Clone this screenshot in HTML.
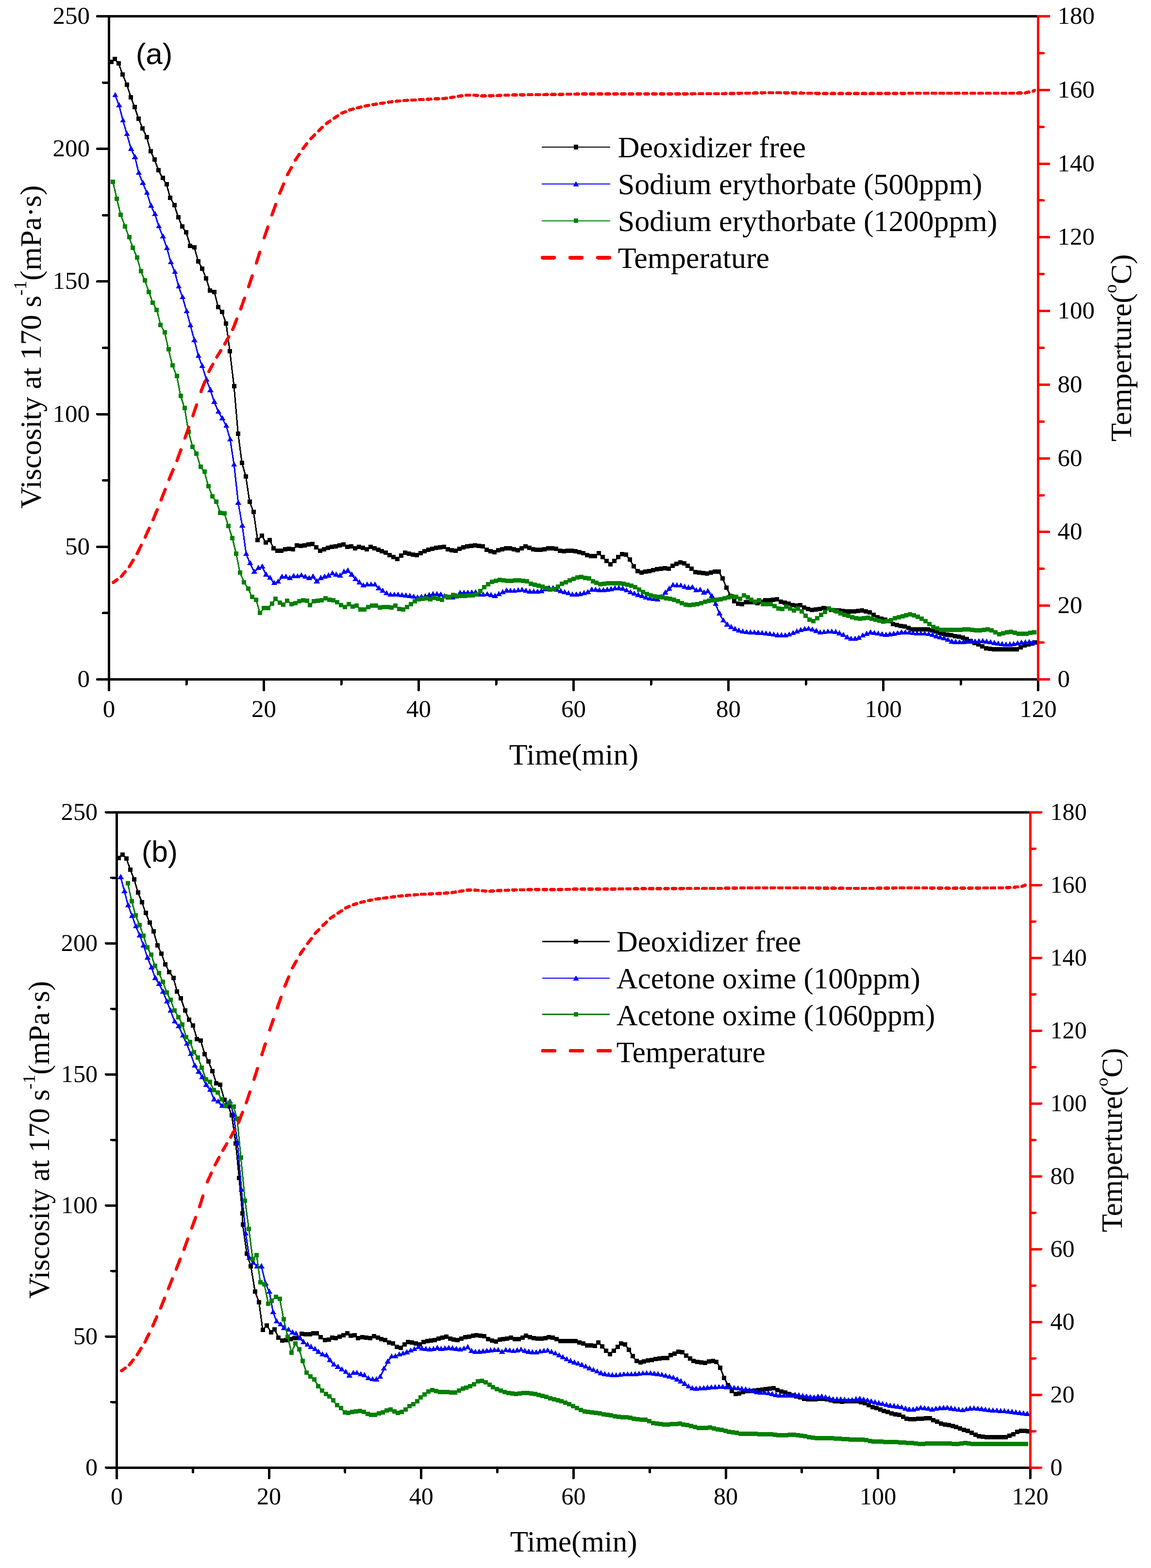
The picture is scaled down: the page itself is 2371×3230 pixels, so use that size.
<!DOCTYPE html>
<html><head><meta charset="utf-8"><title>Viscosity vs time</title>
<style>html,body{margin:0;padding:0;background:#fff;} svg{display:block;}</style>
</head><body>
<svg width="2371" height="3230" viewBox="0 0 2371 3230" shape-rendering="crispEdges"><path d="M229.2 127.2 L236.5 121.6 L244.2 130.8 L252.7 153.8 L261.2 174.0 L269.6 200.3 L277.4 220.9 L285.4 244.6 L293.8 264.5 L302.3 282.9 L310.1 311.2 L318.1 328.2 L326.5 350.5 L335.0 366.9 L343.0 379.8 L350.7 407.4 L359.2 422.6 L367.2 447.5 L375.4 466.9 L383.4 478.3 L391.9 506.2 L400.4 509.8 L408.4 538.4 L416.6 553.4 L424.6 573.3 L432.6 598.7 L441.5 601.2 L449.5 632.6 L457.3 642.3 L465.8 666.5 L473.5 723.4 L482.0 795.3 L490.5 893.7 L498.4 953.5 L506.4 981.3 L514.2 1033.4 L522.3 1054.9 L530.8 1112.6 L539.5 1103.4 L547.5 1117.4 L555.5 1112.6 L563.4 1129.0 L571.4 1134.0 L579.4 1134.0 L587.4 1131.5 L595.4 1130.0 L603.4 1131.9 L611.4 1123.8 L619.4 1124.7 L627.4 1123.2 L635.4 1121.7 L643.4 1120.6 L651.4 1127.5 L659.3 1134.0 L667.3 1131.3 L675.3 1128.0 L683.3 1126.6 L691.2 1125.2 L699.2 1123.1 L707.2 1121.8 L715.2 1126.3 L723.1 1125.0 L731.1 1129.6 L739.1 1126.6 L747.1 1128.7 L755.0 1131.3 L763.0 1126.8 L771.0 1129.0 L779.0 1132.1 L786.9 1135.4 L794.9 1138.8 L802.9 1143.4 L810.9 1147.9 L818.8 1151.3 L826.8 1144.4 L834.8 1138.2 L842.8 1140.2 L850.7 1142.5 L858.7 1143.8 L866.7 1139.3 L874.7 1135.9 L882.6 1132.5 L890.6 1130.5 L898.6 1128.6 L906.6 1127.4 L914.5 1126.7 L922.5 1131.3 L930.5 1133.0 L938.5 1134.1 L946.4 1130.3 L954.4 1127.2 L962.4 1125.7 L970.4 1124.3 L978.3 1123.1 L986.3 1124.3 L994.3 1125.4 L1002.3 1132.8 L1010.2 1135.3 L1018.2 1137.2 L1026.2 1133.6 L1034.2 1131.6 L1042.1 1129.9 L1050.1 1129.5 L1058.1 1131.8 L1066.1 1133.3 L1074.0 1129.3 L1082.0 1125.3 L1090.0 1128.0 L1098.0 1131.2 L1105.9 1132.0 L1113.9 1132.0 L1121.9 1131.5 L1129.8 1129.5 L1137.8 1129.3 L1145.8 1130.4 L1153.8 1134.4 L1161.7 1135.7 L1169.7 1134.5 L1177.7 1134.8 L1185.7 1135.2 L1193.6 1137.2 L1201.6 1139.6 L1209.6 1143.6 L1217.6 1145.0 L1225.5 1145.0 L1233.5 1139.7 L1241.5 1147.7 L1249.5 1155.8 L1257.4 1162.5 L1265.4 1155.9 L1273.4 1147.9 L1281.4 1141.3 L1289.3 1142.9 L1297.3 1152.3 L1305.3 1166.7 L1313.3 1176.8 L1321.2 1179.5 L1329.2 1177.9 L1337.2 1176.4 L1345.2 1174.4 L1353.1 1172.4 L1361.1 1171.3 L1369.1 1170.1 L1377.1 1171.9 L1385.0 1165.0 L1393.0 1161.3 L1401.0 1158.2 L1409.0 1160.1 L1416.9 1165.9 L1424.9 1171.9 L1432.9 1178.8 L1440.9 1179.6 L1448.8 1180.4 L1456.8 1181.2 L1464.8 1179.2 L1472.8 1177.0 L1480.7 1177.9 L1488.7 1191.9 L1496.7 1210.6 L1504.7 1227.3 L1512.6 1238.9 L1520.6 1243.7 L1528.6 1244.5 L1536.6 1240.5 L1544.5 1240.0 L1552.5 1240.6 L1560.5 1242.3 L1568.5 1239.4 L1576.4 1236.9 L1584.4 1236.6 L1592.4 1235.9 L1600.4 1234.7 L1608.3 1239.1 L1616.3 1241.6 L1624.3 1243.6 L1632.3 1246.0 L1640.2 1247.2 L1648.2 1246.7 L1656.2 1251.0 L1664.2 1254.3 L1672.1 1256.9 L1680.1 1255.8 L1688.1 1254.4 L1696.1 1252.8 L1704.0 1253.5 L1712.0 1256.4 L1720.0 1257.7 L1728.0 1257.9 L1735.9 1258.6 L1743.9 1259.4 L1751.9 1259.8 L1759.9 1259.0 L1767.8 1258.2 L1775.8 1257.6 L1783.8 1259.0 L1791.8 1261.2 L1799.7 1266.8 L1807.7 1271.2 L1815.7 1274.2 L1823.7 1276.6 L1831.6 1279.7 L1839.6 1285.2 L1847.6 1287.3 L1855.6 1289.2 L1863.5 1290.6 L1871.5 1293.0 L1879.5 1296.1 L1887.5 1296.1 L1895.4 1296.1 L1903.4 1296.4 L1911.4 1296.9 L1919.4 1298.3 L1927.3 1300.4 L1935.3 1303.0 L1943.3 1305.2 L1951.3 1307.2 L1959.2 1308.6 L1967.2 1310.1 L1975.2 1311.6 L1983.2 1313.6 L1991.1 1316.9 L1999.1 1320.7 L2007.1 1324.4 L2015.1 1327.3 L2023.0 1331.4 L2031.0 1335.0 L2039.0 1336.7 L2047.0 1337.2 L2054.9 1337.4 L2062.9 1337.4 L2070.9 1337.4 L2078.9 1337.3 L2086.8 1337.2 L2094.8 1337.0 L2102.8 1333.6 L2110.8 1329.8 L2118.7 1327.0 L2126.7 1325.6 L2134.7 1323.0" fill="none" stroke="#000" stroke-width="3" stroke-linejoin="round"/>
<path d="M224.7 122.7h9v9h-9zM232.0 117.1h9v9h-9zM239.7 126.3h9v9h-9zM248.2 149.3h9v9h-9zM256.7 169.5h9v9h-9zM265.1 195.8h9v9h-9zM272.9 216.4h9v9h-9zM280.9 240.1h9v9h-9zM289.3 260.0h9v9h-9zM297.8 278.4h9v9h-9zM305.6 306.7h9v9h-9zM313.6 323.7h9v9h-9zM322.0 346.0h9v9h-9zM330.5 362.4h9v9h-9zM338.5 375.3h9v9h-9zM346.2 402.9h9v9h-9zM354.7 418.1h9v9h-9zM362.7 443.0h9v9h-9zM370.9 462.4h9v9h-9zM378.9 473.8h9v9h-9zM387.4 501.7h9v9h-9zM395.9 505.3h9v9h-9zM403.9 533.9h9v9h-9zM412.1 548.9h9v9h-9zM420.1 568.8h9v9h-9zM428.1 594.2h9v9h-9zM437.0 596.7h9v9h-9zM445.0 628.1h9v9h-9zM452.8 637.8h9v9h-9zM461.3 662.0h9v9h-9zM469.0 718.9h9v9h-9zM477.5 790.8h9v9h-9zM486.0 889.2h9v9h-9zM493.9 949.0h9v9h-9zM501.9 976.8h9v9h-9zM509.7 1028.9h9v9h-9zM517.8 1050.4h9v9h-9zM526.3 1108.1h9v9h-9zM535.0 1098.9h9v9h-9zM543.0 1112.9h9v9h-9zM551.0 1108.1h9v9h-9zM558.9 1124.5h9v9h-9zM566.9 1129.5h9v9h-9zM574.9 1129.5h9v9h-9zM582.9 1127.0h9v9h-9zM590.9 1125.5h9v9h-9zM598.9 1127.4h9v9h-9zM606.9 1119.3h9v9h-9zM614.9 1120.2h9v9h-9zM622.9 1118.7h9v9h-9zM630.9 1117.2h9v9h-9zM638.9 1116.1h9v9h-9zM646.9 1123.0h9v9h-9zM654.8 1129.5h9v9h-9zM662.8 1126.8h9v9h-9zM670.8 1123.5h9v9h-9zM678.8 1122.1h9v9h-9zM686.7 1120.7h9v9h-9zM694.7 1118.6h9v9h-9zM702.7 1117.3h9v9h-9zM710.7 1121.8h9v9h-9zM718.6 1120.5h9v9h-9zM726.6 1125.1h9v9h-9zM734.6 1122.1h9v9h-9zM742.6 1124.2h9v9h-9zM750.5 1126.8h9v9h-9zM758.5 1122.3h9v9h-9zM766.5 1124.5h9v9h-9zM774.5 1127.6h9v9h-9zM782.4 1130.9h9v9h-9zM790.4 1134.3h9v9h-9zM798.4 1138.9h9v9h-9zM806.4 1143.4h9v9h-9zM814.3 1146.8h9v9h-9zM822.3 1139.9h9v9h-9zM830.3 1133.7h9v9h-9zM838.3 1135.7h9v9h-9zM846.2 1138.0h9v9h-9zM854.2 1139.3h9v9h-9zM862.2 1134.8h9v9h-9zM870.2 1131.4h9v9h-9zM878.1 1128.0h9v9h-9zM886.1 1126.0h9v9h-9zM894.1 1124.1h9v9h-9zM902.1 1122.9h9v9h-9zM910.0 1122.2h9v9h-9zM918.0 1126.8h9v9h-9zM926.0 1128.5h9v9h-9zM934.0 1129.6h9v9h-9zM941.9 1125.8h9v9h-9zM949.9 1122.7h9v9h-9zM957.9 1121.2h9v9h-9zM965.9 1119.8h9v9h-9zM973.8 1118.6h9v9h-9zM981.8 1119.8h9v9h-9zM989.8 1120.9h9v9h-9zM997.8 1128.3h9v9h-9zM1005.7 1130.8h9v9h-9zM1013.7 1132.7h9v9h-9zM1021.7 1129.1h9v9h-9zM1029.7 1127.1h9v9h-9zM1037.6 1125.4h9v9h-9zM1045.6 1125.0h9v9h-9zM1053.6 1127.3h9v9h-9zM1061.6 1128.8h9v9h-9zM1069.5 1124.8h9v9h-9zM1077.5 1120.8h9v9h-9zM1085.5 1123.5h9v9h-9zM1093.5 1126.7h9v9h-9zM1101.4 1127.5h9v9h-9zM1109.4 1127.5h9v9h-9zM1117.4 1127.0h9v9h-9zM1125.3 1125.0h9v9h-9zM1133.3 1124.8h9v9h-9zM1141.3 1125.9h9v9h-9zM1149.3 1129.9h9v9h-9zM1157.2 1131.2h9v9h-9zM1165.2 1130.0h9v9h-9zM1173.2 1130.3h9v9h-9zM1181.2 1130.7h9v9h-9zM1189.1 1132.7h9v9h-9zM1197.1 1135.1h9v9h-9zM1205.1 1139.1h9v9h-9zM1213.1 1140.5h9v9h-9zM1221.0 1140.5h9v9h-9zM1229.0 1135.2h9v9h-9zM1237.0 1143.2h9v9h-9zM1245.0 1151.3h9v9h-9zM1252.9 1158.0h9v9h-9zM1260.9 1151.4h9v9h-9zM1268.9 1143.4h9v9h-9zM1276.9 1136.8h9v9h-9zM1284.8 1138.4h9v9h-9zM1292.8 1147.8h9v9h-9zM1300.8 1162.2h9v9h-9zM1308.8 1172.3h9v9h-9zM1316.7 1175.0h9v9h-9zM1324.7 1173.4h9v9h-9zM1332.7 1171.9h9v9h-9zM1340.7 1169.9h9v9h-9zM1348.6 1167.9h9v9h-9zM1356.6 1166.8h9v9h-9zM1364.6 1165.6h9v9h-9zM1372.6 1167.4h9v9h-9zM1380.5 1160.5h9v9h-9zM1388.5 1156.8h9v9h-9zM1396.5 1153.7h9v9h-9zM1404.5 1155.6h9v9h-9zM1412.4 1161.4h9v9h-9zM1420.4 1167.4h9v9h-9zM1428.4 1174.3h9v9h-9zM1436.4 1175.1h9v9h-9zM1444.3 1175.9h9v9h-9zM1452.3 1176.7h9v9h-9zM1460.3 1174.7h9v9h-9zM1468.3 1172.5h9v9h-9zM1476.2 1173.4h9v9h-9zM1484.2 1187.4h9v9h-9zM1492.2 1206.1h9v9h-9zM1500.2 1222.8h9v9h-9zM1508.1 1234.4h9v9h-9zM1516.1 1239.2h9v9h-9zM1524.1 1240.0h9v9h-9zM1532.1 1236.0h9v9h-9zM1540.0 1235.5h9v9h-9zM1548.0 1236.1h9v9h-9zM1556.0 1237.8h9v9h-9zM1564.0 1234.9h9v9h-9zM1571.9 1232.4h9v9h-9zM1579.9 1232.1h9v9h-9zM1587.9 1231.4h9v9h-9zM1595.9 1230.2h9v9h-9zM1603.8 1234.6h9v9h-9zM1611.8 1237.1h9v9h-9zM1619.8 1239.1h9v9h-9zM1627.8 1241.5h9v9h-9zM1635.7 1242.7h9v9h-9zM1643.7 1242.2h9v9h-9zM1651.7 1246.5h9v9h-9zM1659.7 1249.8h9v9h-9zM1667.6 1252.4h9v9h-9zM1675.6 1251.3h9v9h-9zM1683.6 1249.9h9v9h-9zM1691.6 1248.3h9v9h-9zM1699.5 1249.0h9v9h-9zM1707.5 1251.9h9v9h-9zM1715.5 1253.2h9v9h-9zM1723.5 1253.4h9v9h-9zM1731.4 1254.1h9v9h-9zM1739.4 1254.9h9v9h-9zM1747.4 1255.3h9v9h-9zM1755.4 1254.5h9v9h-9zM1763.3 1253.7h9v9h-9zM1771.3 1253.1h9v9h-9zM1779.3 1254.5h9v9h-9zM1787.3 1256.7h9v9h-9zM1795.2 1262.3h9v9h-9zM1803.2 1266.7h9v9h-9zM1811.2 1269.7h9v9h-9zM1819.2 1272.1h9v9h-9zM1827.1 1275.2h9v9h-9zM1835.1 1280.7h9v9h-9zM1843.1 1282.8h9v9h-9zM1851.1 1284.7h9v9h-9zM1859.0 1286.1h9v9h-9zM1867.0 1288.5h9v9h-9zM1875.0 1291.6h9v9h-9zM1883.0 1291.6h9v9h-9zM1890.9 1291.6h9v9h-9zM1898.9 1291.9h9v9h-9zM1906.9 1292.4h9v9h-9zM1914.9 1293.8h9v9h-9zM1922.8 1295.9h9v9h-9zM1930.8 1298.5h9v9h-9zM1938.8 1300.7h9v9h-9zM1946.8 1302.7h9v9h-9zM1954.7 1304.1h9v9h-9zM1962.7 1305.6h9v9h-9zM1970.7 1307.1h9v9h-9zM1978.7 1309.1h9v9h-9zM1986.6 1312.4h9v9h-9zM1994.6 1316.2h9v9h-9zM2002.6 1319.9h9v9h-9zM2010.6 1322.8h9v9h-9zM2018.5 1326.9h9v9h-9zM2026.5 1330.5h9v9h-9zM2034.5 1332.2h9v9h-9zM2042.5 1332.7h9v9h-9zM2050.4 1332.9h9v9h-9zM2058.4 1332.9h9v9h-9zM2066.4 1332.9h9v9h-9zM2074.4 1332.8h9v9h-9zM2082.3 1332.7h9v9h-9zM2090.3 1332.5h9v9h-9zM2098.3 1329.1h9v9h-9zM2106.3 1325.3h9v9h-9zM2114.2 1322.5h9v9h-9zM2122.2 1321.1h9v9h-9zM2130.2 1318.5h9v9h-9z" fill="#000"/>
<path d="M237.4 196.9 L245.4 217.5 L253.4 248.9 L261.6 276.8 L270.1 307.1 L278.1 324.0 L285.9 356.7 L294.3 377.3 L302.8 397.9 L311.3 424.5 L319.3 441.5 L327.3 466.9 L335.7 487.5 L344.0 511.7 L352.0 540.7 L360.2 560.9 L368.2 590.9 L376.2 612.7 L384.6 641.8 L392.4 670.9 L400.4 701.1 L408.9 733.8 L416.6 754.4 L425.3 782.2 L433.6 804.0 L441.5 828.2 L450.0 848.8 L458.0 862.1 L466.2 877.9 L474.2 905.7 L482.2 957.8 L490.8 1036.0 L499.1 1083.3 L507.2 1141.7 L515.2 1160.6 L523.8 1178.4 L532.2 1170.4 L540.2 1167.5 L548.2 1184.2 L556.2 1190.8 L564.9 1201.7 L572.9 1198.8 L580.9 1188.6 L588.9 1188.6 L596.9 1191.5 L604.9 1187.1 L612.8 1187.9 L620.8 1185.7 L628.8 1188.6 L636.8 1191.5 L644.8 1188.2 L652.8 1198.0 L660.7 1191.2 L668.7 1188.4 L676.7 1186.0 L684.7 1181.6 L692.6 1184.2 L700.6 1186.3 L708.6 1178.4 L716.6 1176.0 L724.5 1184.0 L732.5 1193.2 L740.5 1200.5 L748.5 1206.7 L756.4 1204.9 L764.4 1204.9 L772.4 1204.9 L780.4 1212.1 L788.3 1217.5 L796.3 1222.6 L804.3 1225.7 L812.3 1225.7 L820.2 1225.7 L828.2 1226.5 L836.2 1227.3 L844.2 1228.1 L852.1 1229.7 L860.1 1231.4 L868.1 1230.1 L876.1 1228.6 L884.0 1226.6 L892.0 1224.5 L900.0 1224.6 L908.0 1225.1 L915.9 1228.8 L923.9 1231.0 L931.9 1231.7 L939.9 1228.0 L947.8 1221.9 L955.8 1221.7 L963.8 1221.5 L971.8 1221.3 L979.7 1220.7 L987.7 1225.5 L995.7 1225.8 L1003.7 1224.6 L1011.6 1226.4 L1019.6 1228.1 L1027.6 1224.4 L1035.6 1220.4 L1043.5 1217.0 L1051.5 1217.7 L1059.5 1217.9 L1067.5 1216.8 L1075.4 1215.8 L1083.4 1217.5 L1091.4 1219.2 L1099.4 1219.4 L1107.3 1219.4 L1115.3 1218.0 L1123.3 1214.1 L1131.2 1212.3 L1139.2 1212.2 L1147.2 1215.7 L1155.2 1218.2 L1163.1 1220.2 L1171.1 1222.7 L1179.1 1225.4 L1187.1 1225.1 L1195.0 1224.4 L1203.0 1222.4 L1211.0 1220.1 L1219.0 1215.0 L1226.9 1215.3 L1234.9 1216.3 L1242.9 1216.5 L1250.9 1215.3 L1258.8 1214.1 L1266.8 1212.5 L1274.8 1212.3 L1282.8 1213.0 L1290.7 1216.8 L1298.7 1220.6 L1306.7 1223.3 L1314.7 1226.0 L1322.6 1228.6 L1330.6 1231.0 L1338.6 1233.3 L1346.6 1234.8 L1354.5 1235.4 L1362.5 1230.0 L1370.5 1221.4 L1378.5 1213.4 L1386.4 1205.7 L1394.4 1206.3 L1402.4 1206.9 L1410.4 1209.3 L1418.3 1211.1 L1426.3 1210.3 L1434.3 1216.7 L1442.3 1215.7 L1450.2 1221.3 L1458.2 1218.4 L1466.2 1228.1 L1474.2 1244.9 L1482.1 1264.1 L1490.1 1278.7 L1498.1 1287.0 L1506.1 1292.4 L1514.0 1296.3 L1522.0 1299.5 L1530.0 1301.5 L1538.0 1302.9 L1545.9 1303.4 L1553.9 1303.7 L1561.9 1304.1 L1569.9 1304.8 L1577.8 1305.5 L1585.8 1306.6 L1593.8 1307.9 L1601.8 1309.0 L1609.7 1309.2 L1617.7 1309.4 L1625.7 1307.8 L1633.7 1304.7 L1641.6 1301.4 L1649.6 1298.7 L1657.6 1296.6 L1665.6 1295.8 L1673.5 1297.8 L1681.5 1300.1 L1689.5 1303.7 L1697.5 1302.9 L1705.4 1301.9 L1713.4 1301.9 L1721.4 1302.4 L1729.4 1305.0 L1737.3 1308.4 L1745.3 1313.3 L1753.3 1316.3 L1761.3 1316.3 L1769.2 1314.6 L1777.2 1309.6 L1785.2 1306.2 L1793.2 1303.3 L1801.1 1304.6 L1809.1 1305.9 L1817.1 1307.1 L1825.1 1308.2 L1833.0 1307.2 L1841.0 1306.1 L1849.0 1304.8 L1857.0 1303.3 L1864.9 1303.3 L1872.9 1303.8 L1880.9 1304.6 L1888.9 1305.6 L1896.8 1305.8 L1904.8 1305.8 L1912.8 1306.9 L1920.8 1308.6 L1928.7 1311.2 L1936.7 1313.4 L1944.7 1315.4 L1952.7 1318.7 L1960.6 1322.2 L1968.6 1323.0 L1976.6 1323.5 L1984.6 1323.1 L1992.5 1322.6 L2000.5 1322.3 L2008.5 1322.0 L2016.5 1321.6 L2024.4 1321.2 L2032.4 1322.3 L2040.4 1323.5 L2048.4 1325.0 L2056.3 1326.5 L2064.3 1327.5 L2072.3 1328.5 L2080.3 1328.0 L2088.2 1327.4 L2096.2 1325.9 L2104.2 1324.4 L2112.2 1323.8 L2120.1 1323.3 L2128.1 1324.0" fill="none" stroke="#00f" stroke-width="3" stroke-linejoin="round"/>
<path d="M231.2 200.4L237.4 189.8L243.6 200.4zM239.2 221.0L245.4 210.4L251.6 221.0zM247.2 252.4L253.4 241.8L259.6 252.4zM255.4 280.3L261.6 269.7L267.8 280.3zM263.9 310.6L270.1 300.0L276.3 310.6zM271.9 327.5L278.1 316.9L284.3 327.5zM279.7 360.2L285.9 349.6L292.1 360.2zM288.1 380.8L294.3 370.2L300.5 380.8zM296.6 401.4L302.8 390.8L309.0 401.4zM305.1 428.0L311.3 417.4L317.5 428.0zM313.1 445.0L319.3 434.4L325.5 445.0zM321.1 470.4L327.3 459.8L333.5 470.4zM329.5 491.0L335.7 480.4L341.9 491.0zM337.8 515.2L344.0 504.6L350.2 515.2zM345.8 544.2L352.0 533.6L358.2 544.2zM354.0 564.4L360.2 553.8L366.4 564.4zM362.0 594.4L368.2 583.8L374.4 594.4zM370.0 616.2L376.2 605.6L382.4 616.2zM378.4 645.3L384.6 634.7L390.8 645.3zM386.2 674.4L392.4 663.8L398.6 674.4zM394.2 704.6L400.4 694.0L406.6 704.6zM402.7 737.3L408.9 726.7L415.1 737.3zM410.4 757.9L416.6 747.3L422.8 757.9zM419.1 785.7L425.3 775.1L431.5 785.7zM427.4 807.5L433.6 796.9L439.8 807.5zM435.3 831.7L441.5 821.1L447.7 831.7zM443.8 852.3L450.0 841.7L456.2 852.3zM451.8 865.6L458.0 855.0L464.2 865.6zM460.0 881.4L466.2 870.8L472.4 881.4zM468.0 909.2L474.2 898.6L480.4 909.2zM476.0 961.3L482.2 950.7L488.4 961.3zM484.6 1039.5L490.8 1028.9L497.0 1039.5zM492.9 1086.8L499.1 1076.2L505.3 1086.8zM501.0 1145.2L507.2 1134.6L513.4 1145.2zM509.0 1164.1L515.2 1153.5L521.4 1164.1zM517.6 1181.9L523.8 1171.3L530.0 1181.9zM526.0 1173.9L532.2 1163.3L538.4 1173.9zM534.0 1171.0L540.2 1160.4L546.4 1171.0zM542.0 1187.7L548.2 1177.1L554.4 1187.7zM550.0 1194.3L556.2 1183.7L562.4 1194.3zM558.7 1205.2L564.9 1194.6L571.1 1205.2zM566.7 1202.3L572.9 1191.7L579.1 1202.3zM574.7 1192.1L580.9 1181.5L587.1 1192.1zM582.7 1192.1L588.9 1181.5L595.1 1192.1zM590.7 1195.0L596.9 1184.4L603.1 1195.0zM598.7 1190.6L604.9 1180.0L611.1 1190.6zM606.6 1191.4L612.8 1180.8L619.0 1191.4zM614.6 1189.2L620.8 1178.6L627.0 1189.2zM622.6 1192.1L628.8 1181.5L635.0 1192.1zM630.6 1195.0L636.8 1184.4L643.0 1195.0zM638.6 1191.7L644.8 1181.1L651.0 1191.7zM646.5 1201.5L652.8 1190.9L659.0 1201.5zM654.5 1194.7L660.7 1184.1L666.9 1194.7zM662.5 1191.9L668.7 1181.3L674.9 1191.9zM670.5 1189.5L676.7 1178.9L682.9 1189.5zM678.5 1185.1L684.7 1174.5L690.9 1185.1zM686.4 1187.7L692.6 1177.1L698.8 1187.7zM694.4 1189.8L700.6 1179.2L706.8 1189.8zM702.4 1181.9L708.6 1171.3L714.8 1181.9zM710.4 1179.5L716.6 1168.9L722.8 1179.5zM718.3 1187.5L724.5 1176.9L730.7 1187.5zM726.3 1196.7L732.5 1186.1L738.7 1196.7zM734.3 1204.0L740.5 1193.4L746.7 1204.0zM742.3 1210.2L748.5 1199.6L754.7 1210.2zM750.2 1208.4L756.4 1197.8L762.6 1208.4zM758.2 1208.4L764.4 1197.8L770.6 1208.4zM766.2 1208.4L772.4 1197.8L778.6 1208.4zM774.2 1215.6L780.4 1205.0L786.6 1215.6zM782.1 1221.0L788.3 1210.4L794.5 1221.0zM790.1 1226.1L796.3 1215.5L802.5 1226.1zM798.1 1229.2L804.3 1218.6L810.5 1229.2zM806.1 1229.2L812.3 1218.6L818.5 1229.2zM814.0 1229.2L820.2 1218.6L826.4 1229.2zM822.0 1230.0L828.2 1219.4L834.4 1230.0zM830.0 1230.8L836.2 1220.2L842.4 1230.8zM838.0 1231.6L844.2 1221.0L850.4 1231.6zM845.9 1233.2L852.1 1222.6L858.3 1233.2zM853.9 1234.9L860.1 1224.3L866.3 1234.9zM861.9 1233.6L868.1 1223.0L874.3 1233.6zM869.9 1232.1L876.1 1221.5L882.3 1232.1zM877.8 1230.1L884.0 1219.5L890.2 1230.1zM885.8 1228.0L892.0 1217.4L898.2 1228.0zM893.8 1228.1L900.0 1217.5L906.2 1228.1zM901.8 1228.6L908.0 1218.0L914.2 1228.6zM909.7 1232.3L915.9 1221.7L922.1 1232.3zM917.7 1234.5L923.9 1223.9L930.1 1234.5zM925.7 1235.2L931.9 1224.5L938.1 1235.2zM933.7 1231.5L939.9 1220.9L946.1 1231.5zM941.6 1225.4L947.8 1214.8L954.0 1225.4zM949.6 1225.2L955.8 1214.6L962.0 1225.2zM957.6 1225.0L963.8 1214.4L970.0 1225.0zM965.6 1224.8L971.8 1214.2L978.0 1224.8zM973.5 1224.2L979.7 1213.6L985.9 1224.2zM981.5 1229.0L987.7 1218.4L993.9 1229.0zM989.5 1229.3L995.7 1218.7L1001.9 1229.3zM997.5 1228.1L1003.7 1217.5L1009.9 1228.1zM1005.4 1229.9L1011.6 1219.3L1017.8 1229.9zM1013.4 1231.6L1019.6 1221.0L1025.8 1231.6zM1021.4 1227.9L1027.6 1217.3L1033.8 1227.9zM1029.4 1223.9L1035.6 1213.3L1041.8 1223.9zM1037.3 1220.5L1043.5 1209.9L1049.7 1220.5zM1045.3 1221.2L1051.5 1210.6L1057.7 1221.2zM1053.3 1221.4L1059.5 1210.8L1065.7 1221.4zM1061.3 1220.3L1067.5 1209.7L1073.7 1220.3zM1069.2 1219.3L1075.4 1208.7L1081.6 1219.3zM1077.2 1221.0L1083.4 1210.4L1089.6 1221.0zM1085.2 1222.7L1091.4 1212.1L1097.6 1222.7zM1093.2 1222.9L1099.4 1212.3L1105.6 1222.9zM1101.1 1222.9L1107.3 1212.3L1113.5 1222.9zM1109.1 1221.5L1115.3 1210.9L1121.5 1221.5zM1117.1 1217.6L1123.3 1207.0L1129.5 1217.6zM1125.0 1215.8L1131.2 1205.2L1137.4 1215.8zM1133.0 1215.7L1139.2 1205.1L1145.4 1215.7zM1141.0 1219.2L1147.2 1208.6L1153.4 1219.2zM1149.0 1221.7L1155.2 1211.1L1161.4 1221.7zM1156.9 1223.7L1163.1 1213.1L1169.3 1223.7zM1164.9 1226.2L1171.1 1215.6L1177.3 1226.2zM1172.9 1228.9L1179.1 1218.3L1185.3 1228.9zM1180.9 1228.6L1187.1 1218.0L1193.3 1228.6zM1188.8 1227.9L1195.0 1217.3L1201.2 1227.9zM1196.8 1225.9L1203.0 1215.3L1209.2 1225.9zM1204.8 1223.6L1211.0 1213.0L1217.2 1223.6zM1212.8 1218.5L1219.0 1207.9L1225.2 1218.5zM1220.7 1218.8L1226.9 1208.2L1233.1 1218.8zM1228.7 1219.8L1234.9 1209.2L1241.1 1219.8zM1236.7 1220.0L1242.9 1209.4L1249.1 1220.0zM1244.7 1218.8L1250.9 1208.2L1257.1 1218.8zM1252.6 1217.6L1258.8 1207.0L1265.0 1217.6zM1260.6 1216.0L1266.8 1205.4L1273.0 1216.0zM1268.6 1215.8L1274.8 1205.2L1281.0 1215.8zM1276.6 1216.5L1282.8 1205.9L1289.0 1216.5zM1284.5 1220.3L1290.7 1209.7L1296.9 1220.3zM1292.5 1224.1L1298.7 1213.5L1304.9 1224.1zM1300.5 1226.8L1306.7 1216.2L1312.9 1226.8zM1308.5 1229.5L1314.7 1218.9L1320.9 1229.5zM1316.4 1232.1L1322.6 1221.5L1328.8 1232.1zM1324.4 1234.5L1330.6 1223.9L1336.8 1234.5zM1332.4 1236.8L1338.6 1226.2L1344.8 1236.8zM1340.4 1238.3L1346.6 1227.7L1352.8 1238.3zM1348.3 1238.9L1354.5 1228.3L1360.7 1238.9zM1356.3 1233.5L1362.5 1222.9L1368.7 1233.5zM1364.3 1224.9L1370.5 1214.3L1376.7 1224.9zM1372.3 1216.9L1378.5 1206.3L1384.7 1216.9zM1380.2 1209.2L1386.4 1198.6L1392.6 1209.2zM1388.2 1209.8L1394.4 1199.2L1400.6 1209.8zM1396.2 1210.4L1402.4 1199.8L1408.6 1210.4zM1404.2 1212.8L1410.4 1202.2L1416.6 1212.8zM1412.1 1214.6L1418.3 1204.0L1424.5 1214.6zM1420.1 1213.8L1426.3 1203.2L1432.5 1213.8zM1428.1 1220.2L1434.3 1209.6L1440.5 1220.2zM1436.1 1219.2L1442.3 1208.6L1448.5 1219.2zM1444.0 1224.8L1450.2 1214.2L1456.4 1224.8zM1452.0 1221.9L1458.2 1211.3L1464.4 1221.9zM1460.0 1231.6L1466.2 1221.0L1472.4 1231.6zM1468.0 1248.4L1474.2 1237.8L1480.4 1248.4zM1475.9 1267.6L1482.1 1257.0L1488.3 1267.6zM1483.9 1282.2L1490.1 1271.6L1496.3 1282.2zM1491.9 1290.5L1498.1 1279.9L1504.3 1290.5zM1499.9 1295.9L1506.1 1285.3L1512.3 1295.9zM1507.8 1299.8L1514.0 1289.2L1520.2 1299.8zM1515.8 1303.0L1522.0 1292.4L1528.2 1303.0zM1523.8 1305.0L1530.0 1294.4L1536.2 1305.0zM1531.8 1306.4L1538.0 1295.8L1544.2 1306.4zM1539.7 1306.9L1545.9 1296.3L1552.1 1306.9zM1547.7 1307.2L1553.9 1296.6L1560.1 1307.2zM1555.7 1307.6L1561.9 1297.0L1568.1 1307.6zM1563.7 1308.3L1569.9 1297.7L1576.1 1308.3zM1571.6 1309.0L1577.8 1298.4L1584.0 1309.0zM1579.6 1310.1L1585.8 1299.5L1592.0 1310.1zM1587.6 1311.4L1593.8 1300.8L1600.0 1311.4zM1595.6 1312.5L1601.8 1301.9L1608.0 1312.5zM1603.5 1312.7L1609.7 1302.1L1615.9 1312.7zM1611.5 1312.9L1617.7 1302.3L1623.9 1312.9zM1619.5 1311.3L1625.7 1300.7L1631.9 1311.3zM1627.5 1308.2L1633.7 1297.6L1639.9 1308.2zM1635.4 1304.9L1641.6 1294.3L1647.8 1304.9zM1643.4 1302.2L1649.6 1291.6L1655.8 1302.2zM1651.4 1300.1L1657.6 1289.5L1663.8 1300.1zM1659.4 1299.3L1665.6 1288.7L1671.8 1299.3zM1667.3 1301.3L1673.5 1290.7L1679.7 1301.3zM1675.3 1303.6L1681.5 1293.0L1687.7 1303.6zM1683.3 1307.2L1689.5 1296.6L1695.7 1307.2zM1691.3 1306.4L1697.5 1295.8L1703.7 1306.4zM1699.2 1305.4L1705.4 1294.8L1711.6 1305.4zM1707.2 1305.4L1713.4 1294.8L1719.6 1305.4zM1715.2 1305.9L1721.4 1295.3L1727.6 1305.9zM1723.2 1308.5L1729.4 1297.9L1735.6 1308.5zM1731.1 1311.9L1737.3 1301.3L1743.5 1311.9zM1739.1 1316.8L1745.3 1306.2L1751.5 1316.8zM1747.1 1319.8L1753.3 1309.2L1759.5 1319.8zM1755.1 1319.8L1761.3 1309.2L1767.5 1319.8zM1763.0 1318.1L1769.2 1307.5L1775.4 1318.1zM1771.0 1313.1L1777.2 1302.5L1783.4 1313.1zM1779.0 1309.7L1785.2 1299.1L1791.4 1309.7zM1787.0 1306.8L1793.2 1296.2L1799.4 1306.8zM1794.9 1308.1L1801.1 1297.5L1807.3 1308.1zM1802.9 1309.4L1809.1 1298.8L1815.3 1309.4zM1810.9 1310.6L1817.1 1300.0L1823.3 1310.6zM1818.9 1311.7L1825.1 1301.1L1831.3 1311.7zM1826.8 1310.7L1833.0 1300.1L1839.2 1310.7zM1834.8 1309.6L1841.0 1299.0L1847.2 1309.6zM1842.8 1308.3L1849.0 1297.7L1855.2 1308.3zM1850.8 1306.8L1857.0 1296.2L1863.2 1306.8zM1858.7 1306.8L1864.9 1296.2L1871.1 1306.8zM1866.7 1307.3L1872.9 1296.7L1879.1 1307.3zM1874.7 1308.1L1880.9 1297.5L1887.1 1308.1zM1882.7 1309.1L1888.9 1298.5L1895.1 1309.1zM1890.6 1309.3L1896.8 1298.7L1903.0 1309.3zM1898.6 1309.3L1904.8 1298.7L1911.0 1309.3zM1906.6 1310.4L1912.8 1299.8L1919.0 1310.4zM1914.6 1312.1L1920.8 1301.5L1927.0 1312.1zM1922.5 1314.7L1928.7 1304.1L1934.9 1314.7zM1930.5 1316.9L1936.7 1306.3L1942.9 1316.9zM1938.5 1318.9L1944.7 1308.3L1950.9 1318.9zM1946.5 1322.2L1952.7 1311.6L1958.9 1322.2zM1954.4 1325.7L1960.6 1315.1L1966.8 1325.7zM1962.4 1326.5L1968.6 1315.9L1974.8 1326.5zM1970.4 1327.0L1976.6 1316.4L1982.8 1327.0zM1978.4 1326.6L1984.6 1316.0L1990.8 1326.6zM1986.3 1326.1L1992.5 1315.5L1998.7 1326.1zM1994.3 1325.8L2000.5 1315.2L2006.7 1325.8zM2002.3 1325.5L2008.5 1314.9L2014.7 1325.5zM2010.3 1325.1L2016.5 1314.5L2022.7 1325.1zM2018.2 1324.7L2024.4 1314.1L2030.6 1324.7zM2026.2 1325.8L2032.4 1315.2L2038.6 1325.8zM2034.2 1327.0L2040.4 1316.4L2046.6 1327.0zM2042.2 1328.5L2048.4 1317.9L2054.6 1328.5zM2050.1 1330.0L2056.3 1319.4L2062.5 1330.0zM2058.1 1331.0L2064.3 1320.4L2070.5 1331.0zM2066.1 1332.0L2072.3 1321.4L2078.5 1332.0zM2074.1 1331.5L2080.3 1320.9L2086.5 1331.5zM2082.0 1330.9L2088.2 1320.3L2094.4 1330.9zM2090.0 1329.4L2096.2 1318.8L2102.4 1329.4zM2098.0 1327.9L2104.2 1317.3L2110.4 1327.9zM2106.0 1327.3L2112.2 1316.7L2118.4 1327.3zM2113.9 1326.8L2120.1 1316.2L2126.3 1326.8zM2121.9 1327.5L2128.1 1316.9L2134.3 1327.5z" fill="#00f"/>
<path d="M232.6 374.2 L240.6 409.3 L248.6 442.5 L257.5 466.2 L266.0 488.7 L273.8 510.5 L282.5 530.8 L290.2 558.9 L298.3 577.5 L306.7 601.2 L314.4 623.0 L322.9 638.7 L330.9 669.0 L339.1 684.7 L347.1 719.8 L355.1 752.5 L364.1 774.3 L372.1 815.4 L380.3 840.9 L388.3 889.3 L396.8 920.8 L404.7 934.1 L413.0 961.9 L421.0 971.6 L429.3 1001.7 L437.5 1022.5 L445.8 1033.4 L453.8 1056.5 L462.2 1057.4 L470.5 1083.5 L478.5 1108.2 L486.4 1140.2 L494.4 1179.4 L502.9 1199.3 L511.1 1212.8 L519.4 1229.8 L527.6 1235.4 L535.4 1262.7 L543.8 1252.8 L552.3 1252.1 L560.5 1243.4 L567.8 1233.9 L576.5 1241.9 L583.8 1245.5 L591.8 1237.5 L600.5 1244.1 L608.5 1242.6 L616.5 1238.3 L624.5 1236.1 L632.5 1237.5 L638.8 1246.3 L646.8 1238.2 L654.8 1237.5 L662.7 1236.3 L670.7 1232.8 L678.7 1235.7 L686.7 1236.3 L694.6 1240.2 L702.6 1246.1 L710.6 1250.9 L718.6 1244.4 L726.5 1249.5 L734.5 1247.7 L742.5 1255.5 L750.5 1255.5 L758.4 1250.2 L766.4 1247.3 L774.4 1247.5 L782.4 1251.9 L790.3 1250.7 L798.3 1250.3 L806.3 1251.2 L814.3 1247.9 L822.2 1254.7 L830.2 1255.3 L838.2 1250.3 L846.2 1244.7 L854.1 1238.2 L862.1 1234.0 L870.1 1233.0 L878.1 1232.2 L886.0 1234.8 L894.0 1231.9 L902.0 1233.0 L910.0 1235.0 L917.9 1228.1 L925.9 1229.3 L933.9 1225.7 L941.9 1228.5 L949.8 1227.9 L957.8 1227.0 L965.8 1226.7 L973.8 1226.3 L981.7 1224.1 L989.7 1217.8 L997.7 1209.9 L1005.7 1203.1 L1013.6 1198.3 L1021.6 1196.2 L1029.6 1194.6 L1037.6 1195.6 L1045.5 1196.7 L1053.5 1196.5 L1061.5 1195.8 L1069.5 1195.0 L1077.4 1196.0 L1085.4 1197.2 L1093.4 1202.0 L1101.4 1204.7 L1109.3 1206.7 L1117.3 1208.3 L1125.3 1211.2 L1133.2 1214.4 L1141.2 1213.2 L1149.2 1208.1 L1157.2 1202.8 L1165.1 1199.2 L1173.1 1195.6 L1181.1 1192.2 L1189.1 1189.9 L1197.0 1188.9 L1205.0 1190.1 L1213.0 1191.7 L1221.0 1197.7 L1228.9 1200.9 L1236.9 1203.6 L1244.9 1202.7 L1252.9 1201.6 L1260.8 1201.3 L1268.8 1201.3 L1276.8 1201.8 L1284.8 1202.5 L1292.7 1204.5 L1300.7 1206.6 L1308.7 1209.8 L1316.7 1214.2 L1324.6 1219.8 L1332.6 1223.2 L1340.6 1226.4 L1348.6 1228.1 L1356.5 1229.8 L1364.5 1230.9 L1372.5 1232.0 L1380.5 1233.2 L1388.4 1235.8 L1396.4 1238.6 L1404.4 1242.1 L1412.4 1245.0 L1420.3 1246.5 L1428.3 1245.4 L1436.3 1244.3 L1444.3 1242.3 L1452.2 1239.6 L1460.2 1237.0 L1468.2 1236.2 L1476.2 1235.4 L1484.1 1234.0 L1492.1 1232.0 L1500.1 1230.3 L1508.1 1228.8 L1516.0 1229.3 L1524.0 1233.9 L1532.0 1226.9 L1540.0 1230.9 L1547.9 1235.8 L1555.9 1239.7 L1563.9 1236.7 L1571.9 1244.3 L1579.8 1244.3 L1587.8 1244.9 L1595.8 1248.1 L1603.8 1253.5 L1611.7 1254.0 L1619.7 1249.6 L1627.7 1253.6 L1635.7 1257.2 L1643.6 1253.6 L1651.6 1259.3 L1659.6 1268.1 L1667.6 1276.8 L1675.5 1279.1 L1683.5 1273.5 L1691.5 1266.8 L1699.5 1260.2 L1707.4 1253.8 L1715.4 1256.1 L1723.4 1259.2 L1731.4 1263.2 L1739.3 1266.4 L1747.3 1268.9 L1755.3 1271.4 L1763.3 1273.3 L1771.2 1274.8 L1779.2 1273.4 L1787.2 1272.1 L1795.2 1274.3 L1803.1 1276.7 L1811.1 1278.7 L1819.1 1280.1 L1827.1 1279.2 L1835.0 1277.0 L1843.0 1273.6 L1851.0 1271.6 L1859.0 1269.6 L1866.9 1267.6 L1874.9 1265.6 L1882.9 1267.5 L1890.9 1270.5 L1898.8 1274.5 L1906.8 1279.3 L1914.8 1285.8 L1922.8 1291.0 L1930.7 1294.6 L1938.7 1297.1 L1946.7 1297.5 L1954.7 1297.9 L1962.6 1297.8 L1970.6 1297.4 L1978.6 1297.0 L1986.6 1296.5 L1994.5 1296.4 L2002.5 1297.8 L2010.5 1298.9 L2018.5 1298.4 L2026.4 1297.7 L2034.4 1296.4 L2042.4 1298.6 L2050.4 1302.3 L2058.3 1306.8 L2066.3 1304.0 L2074.3 1302.5 L2082.3 1301.2 L2090.2 1303.1 L2098.2 1305.5 L2106.2 1305.5 L2114.2 1305.0 L2122.1 1303.6 L2130.1 1302.1" fill="none" stroke="#008000" stroke-width="3" stroke-linejoin="round"/>
<path d="M228.1 369.7h9v9h-9zM236.1 404.8h9v9h-9zM244.1 438.0h9v9h-9zM253.0 461.7h9v9h-9zM261.5 484.2h9v9h-9zM269.3 506.0h9v9h-9zM278.0 526.3h9v9h-9zM285.7 554.4h9v9h-9zM293.8 573.0h9v9h-9zM302.2 596.7h9v9h-9zM309.9 618.5h9v9h-9zM318.4 634.2h9v9h-9zM326.4 664.5h9v9h-9zM334.6 680.2h9v9h-9zM342.6 715.3h9v9h-9zM350.6 748.0h9v9h-9zM359.6 769.8h9v9h-9zM367.6 810.9h9v9h-9zM375.8 836.4h9v9h-9zM383.8 884.8h9v9h-9zM392.3 916.3h9v9h-9zM400.2 929.6h9v9h-9zM408.5 957.4h9v9h-9zM416.5 967.1h9v9h-9zM424.8 997.2h9v9h-9zM433.0 1018.0h9v9h-9zM441.3 1028.9h9v9h-9zM449.3 1052.0h9v9h-9zM457.7 1052.9h9v9h-9zM466.0 1079.0h9v9h-9zM474.0 1103.7h9v9h-9zM481.9 1135.7h9v9h-9zM489.9 1174.9h9v9h-9zM498.4 1194.8h9v9h-9zM506.6 1208.3h9v9h-9zM514.9 1225.3h9v9h-9zM523.1 1230.9h9v9h-9zM530.9 1258.2h9v9h-9zM539.3 1248.3h9v9h-9zM547.8 1247.6h9v9h-9zM556.0 1238.9h9v9h-9zM563.3 1229.4h9v9h-9zM572.0 1237.4h9v9h-9zM579.3 1241.0h9v9h-9zM587.3 1233.0h9v9h-9zM596.0 1239.6h9v9h-9zM604.0 1238.1h9v9h-9zM612.0 1233.8h9v9h-9zM620.0 1231.6h9v9h-9zM628.0 1233.0h9v9h-9zM634.3 1241.8h9v9h-9zM642.3 1233.7h9v9h-9zM650.2 1233.0h9v9h-9zM658.2 1231.8h9v9h-9zM666.2 1228.3h9v9h-9zM674.2 1231.2h9v9h-9zM682.2 1231.8h9v9h-9zM690.1 1235.7h9v9h-9zM698.1 1241.6h9v9h-9zM706.1 1246.4h9v9h-9zM714.1 1239.9h9v9h-9zM722.0 1245.0h9v9h-9zM730.0 1243.2h9v9h-9zM738.0 1251.0h9v9h-9zM746.0 1251.0h9v9h-9zM753.9 1245.7h9v9h-9zM761.9 1242.8h9v9h-9zM769.9 1243.0h9v9h-9zM777.9 1247.4h9v9h-9zM785.8 1246.2h9v9h-9zM793.8 1245.8h9v9h-9zM801.8 1246.7h9v9h-9zM809.8 1243.4h9v9h-9zM817.7 1250.2h9v9h-9zM825.7 1250.8h9v9h-9zM833.7 1245.8h9v9h-9zM841.7 1240.2h9v9h-9zM849.6 1233.7h9v9h-9zM857.6 1229.5h9v9h-9zM865.6 1228.5h9v9h-9zM873.6 1227.7h9v9h-9zM881.5 1230.3h9v9h-9zM889.5 1227.4h9v9h-9zM897.5 1228.5h9v9h-9zM905.5 1230.5h9v9h-9zM913.4 1223.6h9v9h-9zM921.4 1224.8h9v9h-9zM929.4 1221.2h9v9h-9zM937.4 1224.0h9v9h-9zM945.3 1223.4h9v9h-9zM953.3 1222.5h9v9h-9zM961.3 1222.2h9v9h-9zM969.3 1221.8h9v9h-9zM977.2 1219.6h9v9h-9zM985.2 1213.3h9v9h-9zM993.2 1205.4h9v9h-9zM1001.2 1198.6h9v9h-9zM1009.1 1193.8h9v9h-9zM1017.1 1191.7h9v9h-9zM1025.1 1190.1h9v9h-9zM1033.1 1191.1h9v9h-9zM1041.0 1192.2h9v9h-9zM1049.0 1192.0h9v9h-9zM1057.0 1191.3h9v9h-9zM1065.0 1190.5h9v9h-9zM1072.9 1191.5h9v9h-9zM1080.9 1192.7h9v9h-9zM1088.9 1197.5h9v9h-9zM1096.9 1200.2h9v9h-9zM1104.8 1202.2h9v9h-9zM1112.8 1203.8h9v9h-9zM1120.8 1206.7h9v9h-9zM1128.7 1209.9h9v9h-9zM1136.7 1208.7h9v9h-9zM1144.7 1203.6h9v9h-9zM1152.7 1198.3h9v9h-9zM1160.6 1194.7h9v9h-9zM1168.6 1191.1h9v9h-9zM1176.6 1187.7h9v9h-9zM1184.6 1185.4h9v9h-9zM1192.5 1184.4h9v9h-9zM1200.5 1185.6h9v9h-9zM1208.5 1187.2h9v9h-9zM1216.5 1193.2h9v9h-9zM1224.4 1196.4h9v9h-9zM1232.4 1199.1h9v9h-9zM1240.4 1198.2h9v9h-9zM1248.4 1197.1h9v9h-9zM1256.3 1196.8h9v9h-9zM1264.3 1196.8h9v9h-9zM1272.3 1197.3h9v9h-9zM1280.3 1198.0h9v9h-9zM1288.2 1200.0h9v9h-9zM1296.2 1202.1h9v9h-9zM1304.2 1205.3h9v9h-9zM1312.2 1209.7h9v9h-9zM1320.1 1215.3h9v9h-9zM1328.1 1218.7h9v9h-9zM1336.1 1221.9h9v9h-9zM1344.1 1223.6h9v9h-9zM1352.0 1225.3h9v9h-9zM1360.0 1226.4h9v9h-9zM1368.0 1227.5h9v9h-9zM1376.0 1228.7h9v9h-9zM1383.9 1231.3h9v9h-9zM1391.9 1234.1h9v9h-9zM1399.9 1237.6h9v9h-9zM1407.9 1240.5h9v9h-9zM1415.8 1242.0h9v9h-9zM1423.8 1240.9h9v9h-9zM1431.8 1239.8h9v9h-9zM1439.8 1237.8h9v9h-9zM1447.7 1235.1h9v9h-9zM1455.7 1232.5h9v9h-9zM1463.7 1231.7h9v9h-9zM1471.7 1230.9h9v9h-9zM1479.6 1229.5h9v9h-9zM1487.6 1227.5h9v9h-9zM1495.6 1225.8h9v9h-9zM1503.6 1224.3h9v9h-9zM1511.5 1224.8h9v9h-9zM1519.5 1229.4h9v9h-9zM1527.5 1222.4h9v9h-9zM1535.5 1226.4h9v9h-9zM1543.4 1231.3h9v9h-9zM1551.4 1235.2h9v9h-9zM1559.4 1232.2h9v9h-9zM1567.4 1239.8h9v9h-9zM1575.3 1239.8h9v9h-9zM1583.3 1240.4h9v9h-9zM1591.3 1243.6h9v9h-9zM1599.3 1249.0h9v9h-9zM1607.2 1249.5h9v9h-9zM1615.2 1245.1h9v9h-9zM1623.2 1249.1h9v9h-9zM1631.2 1252.7h9v9h-9zM1639.1 1249.1h9v9h-9zM1647.1 1254.8h9v9h-9zM1655.1 1263.6h9v9h-9zM1663.1 1272.3h9v9h-9zM1671.0 1274.6h9v9h-9zM1679.0 1269.0h9v9h-9zM1687.0 1262.3h9v9h-9zM1695.0 1255.7h9v9h-9zM1702.9 1249.3h9v9h-9zM1710.9 1251.6h9v9h-9zM1718.9 1254.7h9v9h-9zM1726.9 1258.7h9v9h-9zM1734.8 1261.9h9v9h-9zM1742.8 1264.4h9v9h-9zM1750.8 1266.9h9v9h-9zM1758.8 1268.8h9v9h-9zM1766.7 1270.3h9v9h-9zM1774.7 1268.9h9v9h-9zM1782.7 1267.6h9v9h-9zM1790.7 1269.8h9v9h-9zM1798.6 1272.2h9v9h-9zM1806.6 1274.2h9v9h-9zM1814.6 1275.6h9v9h-9zM1822.6 1274.7h9v9h-9zM1830.5 1272.5h9v9h-9zM1838.5 1269.1h9v9h-9zM1846.5 1267.1h9v9h-9zM1854.5 1265.1h9v9h-9zM1862.4 1263.1h9v9h-9zM1870.4 1261.1h9v9h-9zM1878.4 1263.0h9v9h-9zM1886.4 1266.0h9v9h-9zM1894.3 1270.0h9v9h-9zM1902.3 1274.8h9v9h-9zM1910.3 1281.3h9v9h-9zM1918.3 1286.5h9v9h-9zM1926.2 1290.1h9v9h-9zM1934.2 1292.6h9v9h-9zM1942.2 1293.0h9v9h-9zM1950.2 1293.4h9v9h-9zM1958.1 1293.3h9v9h-9zM1966.1 1292.9h9v9h-9zM1974.1 1292.5h9v9h-9zM1982.1 1292.0h9v9h-9zM1990.0 1291.9h9v9h-9zM1998.0 1293.3h9v9h-9zM2006.0 1294.4h9v9h-9zM2014.0 1293.9h9v9h-9zM2021.9 1293.2h9v9h-9zM2029.9 1291.9h9v9h-9zM2037.9 1294.1h9v9h-9zM2045.9 1297.8h9v9h-9zM2053.8 1302.3h9v9h-9zM2061.8 1299.5h9v9h-9zM2069.8 1298.0h9v9h-9zM2077.8 1296.7h9v9h-9zM2085.7 1298.6h9v9h-9zM2093.7 1301.0h9v9h-9zM2101.7 1301.0h9v9h-9zM2109.7 1300.5h9v9h-9zM2117.6 1299.1h9v9h-9zM2125.6 1297.6h9v9h-9z" fill="#008000"/>
<path d="M233.4 1199.9L241.2 1194.0M249.8 1187.5L257.9 1177.6M266.2 1167.4L274.4 1153.8M282.6 1140.3L291.0 1123.1M299.0 1106.6L307.4 1088.3M315.4 1070.8L323.9 1049.8M331.8 1030.1L340.3 1008.2M348.2 987.6L356.6 967.6M364.6 948.8L372.5 926.6M381.0 902.5L388.9 880.4M397.4 856.4L404.8 834.1M413.8 806.9L422.3 785.5M430.2 765.4L438.5 750.3M446.6 735.6L454.8 722.1M463.0 708.7L471.3 693.6M479.4 678.9L487.9 657.0M495.8 636.4L503.7 614.3M512.2 590.5L519.6 568.2M528.2 542.0L535.1 519.5M544.2 489.9L551.8 467.6M560.2 442.9L568.1 420.8M576.2 398.3L584.4 378.7M592.2 360.0L600.3 344.9M608.2 330.1L616.2 318.1M624.2 306.0L632.1 295.9M640.2 285.5L647.9 277.8M656.2 269.5L663.9 262.4M672.2 254.6L679.8 249.3M688.2 243.5L695.7 238.6M704.2 233.1L711.6 230.1M720.2 226.5L727.6 224.5M736.2 222.2L743.5 220.5M752.2 218.4L759.5 217.1M768.2 215.5L775.5 214.4M784.2 213.1L791.5 211.9M800.2 210.5L807.5 209.6M816.2 208.5L823.5 207.8M832.2 207.1L839.5 206.7M848.2 206.3L855.5 205.9M864.2 205.3L871.5 205.0M880.2 204.6L887.5 204.1M896.2 203.5L903.5 203.4M912.2 203.3L919.5 202.2M928.2 201.0L935.5 199.8M944.2 198.4L951.5 197.3M960.2 196.0L967.5 195.9M976.2 195.9L983.5 196.7M992.2 197.6L999.5 197.5M1008.2 197.4L1015.5 197.2M1024.2 196.8L1031.5 196.6M1040.2 196.2L1047.5 196.0M1056.2 195.6L1063.5 195.5M1072.2 195.3L1079.5 195.3M1088.2 195.1L1095.5 195.1M1104.2 195.0L1111.5 194.9M1120.2 194.8L1127.5 194.7M1136.2 194.6L1143.5 194.6M1152.2 194.5L1159.5 194.3M1168.2 194.1L1175.5 194.0M1184.2 193.8L1191.5 193.7M1200.2 193.5L1207.5 193.5M1216.2 193.5L1223.5 193.5M1232.2 193.5L1239.5 193.5M1248.2 193.5L1255.5 193.4M1264.2 193.4L1271.5 193.4M1280.2 193.4L1287.5 193.4M1296.2 193.4L1303.5 193.4M1312.2 193.4L1319.5 193.4M1328.2 193.4L1335.5 193.4M1344.2 193.4L1351.5 193.4M1360.2 193.4L1367.5 193.4M1376.2 193.4L1383.5 193.4M1392.2 193.4L1399.5 193.4M1408.2 193.4L1415.5 193.3M1424.2 193.3L1431.5 193.2M1440.2 193.2L1447.5 193.2M1456.2 193.1L1463.5 193.1M1472.2 193.0L1479.5 193.0M1488.2 192.9L1495.5 192.7M1504.2 192.6L1511.5 192.5M1520.2 192.3L1527.5 192.2M1536.2 192.1L1543.5 191.9M1552.2 191.7L1559.5 191.5M1568.2 191.3L1575.5 191.2M1584.2 191.0L1591.5 191.1M1600.2 191.2L1607.5 191.2M1616.2 191.3L1623.5 191.4M1632.2 191.4L1639.5 191.5M1648.2 191.7L1655.5 191.8M1664.2 192.0L1671.5 192.1M1680.2 192.3L1687.5 192.5M1696.2 192.6L1703.5 192.7M1712.2 192.7L1719.5 192.7M1728.2 192.7L1735.5 192.7M1744.2 192.7L1751.5 192.7M1760.2 192.7L1767.5 192.7M1776.2 192.7L1783.5 192.7M1792.2 192.7L1799.5 192.7M1808.2 192.6L1815.5 192.6M1824.2 192.5L1831.5 192.5M1840.2 192.4L1847.5 192.4M1856.2 192.3L1863.5 192.3M1872.2 192.2L1879.5 192.1M1888.2 192.1L1895.5 192.0M1904.2 192.0L1911.5 192.0M1920.2 192.0L1927.5 192.0M1936.2 192.0L1943.5 192.0M1952.2 192.0L1959.5 192.0M1968.2 192.0L1975.5 192.0M1984.2 192.0L1991.5 192.0M2000.2 192.0L2007.5 192.0M2016.2 192.0L2023.5 192.0M2032.2 192.0L2039.5 192.0M2048.2 192.0L2055.5 192.0M2064.2 192.0L2071.5 192.0M2080.2 192.0L2087.5 191.9M2096.2 191.7L2103.5 191.6M2112.2 191.4L2119.5 189.6M2128.2 187.6L2131.1 186.2" fill="none" stroke="#f00" stroke-width="6.5" stroke-linecap="round"/>
<path d="M244.1 1767.2 L252.3 1760.0 L260.4 1768.7 L268.6 1791.7 L276.4 1811.7 L284.0 1838.0 L292.2 1858.0 L300.0 1880.7 L308.5 1900.7 L316.4 1918.8 L324.3 1947.0 L332.5 1964.2 L340.3 1986.0 L348.9 2002.4 L357.0 2014.2 L364.8 2042.3 L372.6 2056.8 L381.2 2081.4 L389.4 2100.2 L397.6 2112.5 L405.8 2140.0 L413.4 2143.6 L421.8 2171.7 L429.4 2186.8 L437.6 2206.2 L445.8 2231.6 L453.4 2234.0 L462.1 2265.2 L470.3 2278.9 L477.5 2297.9 L485.7 2355.1 L492.6 2426.0 L499.3 2499.5 L500.0 2522.7 L508.5 2582.6 L516.8 2608.9 L525.4 2660.7 L533.6 2682.5 L541.2 2739.7 L549.9 2730.6 L558.1 2744.2 L565.9 2738.8 L573.5 2755.1 L581.7 2761.5 L589.8 2760.6 L598.0 2758.7 L606.2 2756.9 L613.5 2756.9 L621.6 2747.8 L629.8 2748.8 L638.0 2748.4 L645.2 2746.6 L652.5 2746.0 L660.7 2754.2 L669.7 2760.6 L677.0 2759.6 L684.3 2755.1 L691.5 2756.0 L699.7 2753.3 L707.9 2750.6 L715.1 2746.9 L722.4 2751.5 L730.6 2750.6 L737.8 2756.0 L746.0 2754.2 L754.2 2755.1 L762.4 2756.9 L770.2 2752.6 L778.1 2755.7 L785.9 2758.4 L793.8 2760.8 L801.6 2765.7 L809.4 2767.4 L817.3 2774.8 L825.1 2776.9 L833.0 2769.2 L840.8 2764.6 L848.6 2765.9 L856.5 2767.9 L864.3 2769.9 L872.2 2764.9 L880.0 2762.7 L887.9 2761.1 L895.7 2760.3 L903.5 2757.5 L911.4 2755.2 L919.2 2753.2 L927.1 2757.7 L934.9 2759.2 L942.7 2760.4 L950.6 2757.5 L958.4 2754.8 L966.3 2753.2 L974.1 2751.8 L981.9 2750.6 L989.8 2751.5 L997.6 2752.6 L1005.5 2758.1 L1013.3 2761.5 L1021.1 2763.2 L1029.0 2759.3 L1036.8 2758.0 L1044.7 2757.0 L1052.5 2755.5 L1060.3 2758.3 L1068.2 2758.8 L1076.0 2755.8 L1083.9 2751.9 L1091.7 2754.1 L1099.5 2756.3 L1107.4 2757.6 L1115.2 2757.3 L1123.1 2756.1 L1130.9 2754.0 L1138.8 2755.7 L1146.6 2758.0 L1154.4 2762.7 L1162.3 2762.5 L1170.1 2762.0 L1178.0 2762.0 L1185.8 2762.3 L1193.6 2765.0 L1201.5 2767.9 L1209.3 2771.0 L1217.2 2771.9 L1225.0 2772.5 L1232.8 2765.8 L1240.7 2773.8 L1248.5 2782.2 L1256.4 2789.4 L1264.2 2782.1 L1272.0 2774.4 L1279.9 2767.6 L1287.7 2769.8 L1295.6 2780.9 L1303.4 2793.7 L1311.2 2803.1 L1319.1 2806.0 L1326.9 2804.3 L1334.8 2802.6 L1342.6 2801.0 L1350.4 2799.4 L1358.3 2798.4 L1366.1 2797.6 L1374.0 2797.8 L1381.8 2791.2 L1389.7 2788.9 L1397.5 2784.5 L1405.3 2785.4 L1413.2 2792.5 L1421.0 2798.6 L1428.9 2803.7 L1436.7 2805.5 L1444.5 2806.6 L1452.4 2807.1 L1460.2 2804.5 L1468.1 2803.3 L1475.9 2805.6 L1483.7 2817.4 L1491.6 2838.1 L1499.4 2853.5 L1507.3 2865.7 L1515.1 2871.3 L1522.9 2870.3 L1530.8 2867.9 L1538.6 2865.9 L1546.5 2865.0 L1554.3 2864.4 L1562.1 2863.6 L1570.0 2862.2 L1577.8 2861.0 L1585.7 2860.2 L1593.5 2859.9 L1601.3 2863.3 L1609.2 2866.0 L1617.0 2868.8 L1624.9 2871.8 L1632.7 2874.5 L1640.6 2876.4 L1648.4 2878.6 L1656.2 2881.0 L1664.1 2882.9 L1671.9 2882.6 L1679.8 2882.1 L1687.6 2881.5 L1695.4 2881.7 L1703.3 2882.4 L1711.1 2884.8 L1719.0 2886.4 L1726.8 2886.7 L1734.6 2887.0 L1742.5 2886.7 L1750.3 2886.5 L1758.2 2886.4 L1766.0 2886.8 L1773.8 2888.1 L1781.7 2890.3 L1789.5 2894.1 L1797.4 2898.2 L1805.2 2900.6 L1813.0 2903.1 L1820.9 2906.0 L1828.7 2908.7 L1836.6 2911.4 L1844.4 2913.4 L1852.2 2914.9 L1860.1 2918.8 L1867.9 2922.0 L1875.8 2923.7 L1883.6 2923.1 L1891.5 2922.4 L1899.3 2922.1 L1907.1 2921.7 L1915.0 2921.6 L1922.8 2925.0 L1930.7 2928.7 L1938.5 2932.6 L1946.3 2934.0 L1954.2 2935.1 L1962.0 2937.2 L1969.9 2939.6 L1977.7 2942.5 L1985.5 2945.0 L1993.4 2947.2 L2001.2 2951.7 L2009.1 2955.9 L2016.9 2958.1 L2024.7 2959.9 L2032.6 2960.2 L2040.4 2960.4 L2048.3 2960.5 L2056.1 2960.3 L2063.9 2960.1 L2071.8 2960.0 L2079.6 2957.8 L2087.5 2954.8 L2095.3 2949.5 L2103.1 2947.7 L2111.0 2947.4 L2118.8 2948.8" fill="none" stroke="#000" stroke-width="3" stroke-linejoin="round"/>
<path d="M239.6 1762.7h9v9h-9zM247.8 1755.5h9v9h-9zM255.9 1764.2h9v9h-9zM264.1 1787.2h9v9h-9zM271.9 1807.2h9v9h-9zM279.5 1833.5h9v9h-9zM287.7 1853.5h9v9h-9zM295.5 1876.2h9v9h-9zM304.0 1896.2h9v9h-9zM311.9 1914.3h9v9h-9zM319.8 1942.5h9v9h-9zM328.0 1959.7h9v9h-9zM335.8 1981.5h9v9h-9zM344.4 1997.9h9v9h-9zM352.5 2009.7h9v9h-9zM360.3 2037.8h9v9h-9zM368.1 2052.3h9v9h-9zM376.7 2076.9h9v9h-9zM384.9 2095.7h9v9h-9zM393.1 2108.0h9v9h-9zM401.3 2135.5h9v9h-9zM408.9 2139.1h9v9h-9zM417.3 2167.2h9v9h-9zM424.9 2182.3h9v9h-9zM433.1 2201.7h9v9h-9zM441.3 2227.1h9v9h-9zM448.9 2229.5h9v9h-9zM457.6 2260.7h9v9h-9zM465.8 2274.4h9v9h-9zM473.0 2293.4h9v9h-9zM481.2 2350.6h9v9h-9zM488.1 2421.5h9v9h-9zM494.8 2495.0h9v9h-9zM495.5 2518.2h9v9h-9zM504.0 2578.1h9v9h-9zM512.3 2604.4h9v9h-9zM520.9 2656.2h9v9h-9zM529.1 2678.0h9v9h-9zM536.7 2735.2h9v9h-9zM545.4 2726.1h9v9h-9zM553.6 2739.7h9v9h-9zM561.4 2734.3h9v9h-9zM569.0 2750.6h9v9h-9zM577.2 2757.0h9v9h-9zM585.3 2756.1h9v9h-9zM593.5 2754.2h9v9h-9zM601.7 2752.4h9v9h-9zM609.0 2752.4h9v9h-9zM617.1 2743.3h9v9h-9zM625.3 2744.3h9v9h-9zM633.5 2743.9h9v9h-9zM640.7 2742.1h9v9h-9zM648.0 2741.5h9v9h-9zM656.2 2749.7h9v9h-9zM665.2 2756.1h9v9h-9zM672.5 2755.1h9v9h-9zM679.8 2750.6h9v9h-9zM687.0 2751.5h9v9h-9zM695.2 2748.8h9v9h-9zM703.4 2746.1h9v9h-9zM710.6 2742.4h9v9h-9zM717.9 2747.0h9v9h-9zM726.1 2746.1h9v9h-9zM733.3 2751.5h9v9h-9zM741.5 2749.7h9v9h-9zM749.7 2750.6h9v9h-9zM757.9 2752.4h9v9h-9zM765.7 2748.1h9v9h-9zM773.6 2751.2h9v9h-9zM781.4 2753.9h9v9h-9zM789.3 2756.3h9v9h-9zM797.1 2761.2h9v9h-9zM804.9 2762.9h9v9h-9zM812.8 2770.3h9v9h-9zM820.6 2772.4h9v9h-9zM828.5 2764.7h9v9h-9zM836.3 2760.1h9v9h-9zM844.1 2761.4h9v9h-9zM852.0 2763.4h9v9h-9zM859.8 2765.4h9v9h-9zM867.7 2760.4h9v9h-9zM875.5 2758.2h9v9h-9zM883.4 2756.6h9v9h-9zM891.2 2755.8h9v9h-9zM899.0 2753.0h9v9h-9zM906.9 2750.7h9v9h-9zM914.7 2748.7h9v9h-9zM922.6 2753.2h9v9h-9zM930.4 2754.7h9v9h-9zM938.2 2755.9h9v9h-9zM946.1 2753.0h9v9h-9zM953.9 2750.3h9v9h-9zM961.8 2748.7h9v9h-9zM969.6 2747.3h9v9h-9zM977.4 2746.1h9v9h-9zM985.3 2747.0h9v9h-9zM993.1 2748.1h9v9h-9zM1001.0 2753.6h9v9h-9zM1008.8 2757.0h9v9h-9zM1016.6 2758.7h9v9h-9zM1024.5 2754.8h9v9h-9zM1032.3 2753.5h9v9h-9zM1040.2 2752.5h9v9h-9zM1048.0 2751.0h9v9h-9zM1055.8 2753.8h9v9h-9zM1063.7 2754.3h9v9h-9zM1071.5 2751.3h9v9h-9zM1079.4 2747.4h9v9h-9zM1087.2 2749.6h9v9h-9zM1095.0 2751.8h9v9h-9zM1102.9 2753.1h9v9h-9zM1110.7 2752.8h9v9h-9zM1118.6 2751.6h9v9h-9zM1126.4 2749.5h9v9h-9zM1134.3 2751.2h9v9h-9zM1142.1 2753.5h9v9h-9zM1149.9 2758.2h9v9h-9zM1157.8 2758.0h9v9h-9zM1165.6 2757.5h9v9h-9zM1173.5 2757.5h9v9h-9zM1181.3 2757.8h9v9h-9zM1189.1 2760.5h9v9h-9zM1197.0 2763.4h9v9h-9zM1204.8 2766.5h9v9h-9zM1212.7 2767.4h9v9h-9zM1220.5 2768.0h9v9h-9zM1228.3 2761.3h9v9h-9zM1236.2 2769.3h9v9h-9zM1244.0 2777.7h9v9h-9zM1251.9 2784.9h9v9h-9zM1259.7 2777.6h9v9h-9zM1267.5 2769.9h9v9h-9zM1275.4 2763.1h9v9h-9zM1283.2 2765.3h9v9h-9zM1291.1 2776.4h9v9h-9zM1298.9 2789.2h9v9h-9zM1306.7 2798.6h9v9h-9zM1314.6 2801.5h9v9h-9zM1322.4 2799.8h9v9h-9zM1330.3 2798.1h9v9h-9zM1338.1 2796.5h9v9h-9zM1345.9 2794.9h9v9h-9zM1353.8 2793.9h9v9h-9zM1361.6 2793.1h9v9h-9zM1369.5 2793.3h9v9h-9zM1377.3 2786.7h9v9h-9zM1385.2 2784.4h9v9h-9zM1393.0 2780.0h9v9h-9zM1400.8 2780.9h9v9h-9zM1408.7 2788.0h9v9h-9zM1416.5 2794.1h9v9h-9zM1424.4 2799.2h9v9h-9zM1432.2 2801.0h9v9h-9zM1440.0 2802.1h9v9h-9zM1447.9 2802.6h9v9h-9zM1455.7 2800.0h9v9h-9zM1463.6 2798.8h9v9h-9zM1471.4 2801.1h9v9h-9zM1479.2 2812.9h9v9h-9zM1487.1 2833.6h9v9h-9zM1494.9 2849.0h9v9h-9zM1502.8 2861.2h9v9h-9zM1510.6 2866.8h9v9h-9zM1518.4 2865.8h9v9h-9zM1526.3 2863.4h9v9h-9zM1534.1 2861.4h9v9h-9zM1542.0 2860.5h9v9h-9zM1549.8 2859.9h9v9h-9zM1557.6 2859.1h9v9h-9zM1565.5 2857.7h9v9h-9zM1573.3 2856.5h9v9h-9zM1581.2 2855.7h9v9h-9zM1589.0 2855.4h9v9h-9zM1596.8 2858.8h9v9h-9zM1604.7 2861.5h9v9h-9zM1612.5 2864.3h9v9h-9zM1620.4 2867.3h9v9h-9zM1628.2 2870.0h9v9h-9zM1636.1 2871.9h9v9h-9zM1643.9 2874.1h9v9h-9zM1651.7 2876.5h9v9h-9zM1659.6 2878.4h9v9h-9zM1667.4 2878.1h9v9h-9zM1675.3 2877.6h9v9h-9zM1683.1 2877.0h9v9h-9zM1690.9 2877.2h9v9h-9zM1698.8 2877.9h9v9h-9zM1706.6 2880.3h9v9h-9zM1714.5 2881.9h9v9h-9zM1722.3 2882.2h9v9h-9zM1730.1 2882.5h9v9h-9zM1738.0 2882.2h9v9h-9zM1745.8 2882.0h9v9h-9zM1753.7 2881.9h9v9h-9zM1761.5 2882.3h9v9h-9zM1769.3 2883.6h9v9h-9zM1777.2 2885.8h9v9h-9zM1785.0 2889.6h9v9h-9zM1792.9 2893.7h9v9h-9zM1800.7 2896.1h9v9h-9zM1808.5 2898.6h9v9h-9zM1816.4 2901.5h9v9h-9zM1824.2 2904.2h9v9h-9zM1832.1 2906.9h9v9h-9zM1839.9 2908.9h9v9h-9zM1847.7 2910.4h9v9h-9zM1855.6 2914.3h9v9h-9zM1863.4 2917.5h9v9h-9zM1871.3 2919.2h9v9h-9zM1879.1 2918.6h9v9h-9zM1887.0 2917.9h9v9h-9zM1894.8 2917.6h9v9h-9zM1902.6 2917.2h9v9h-9zM1910.5 2917.1h9v9h-9zM1918.3 2920.5h9v9h-9zM1926.2 2924.2h9v9h-9zM1934.0 2928.1h9v9h-9zM1941.8 2929.5h9v9h-9zM1949.7 2930.6h9v9h-9zM1957.5 2932.7h9v9h-9zM1965.4 2935.1h9v9h-9zM1973.2 2938.0h9v9h-9zM1981.0 2940.5h9v9h-9zM1988.9 2942.7h9v9h-9zM1996.7 2947.2h9v9h-9zM2004.6 2951.4h9v9h-9zM2012.4 2953.6h9v9h-9zM2020.2 2955.4h9v9h-9zM2028.1 2955.7h9v9h-9zM2035.9 2955.9h9v9h-9zM2043.8 2956.0h9v9h-9zM2051.6 2955.8h9v9h-9zM2059.4 2955.6h9v9h-9zM2067.3 2955.5h9v9h-9zM2075.1 2953.3h9v9h-9zM2083.0 2950.3h9v9h-9zM2090.8 2945.0h9v9h-9zM2098.6 2943.2h9v9h-9zM2106.5 2942.9h9v9h-9zM2114.3 2944.3h9v9h-9z" fill="#000"/>
<path d="M248.6 1807.2 L256.4 1836.3 L264.1 1865.4 L272.2 1887.1 L280.0 1908.9 L288.0 1927.1 L295.8 1948.0 L304.0 1973.4 L312.2 1993.4 L320.0 2015.2 L328.0 2027.0 L335.8 2043.3 L344.0 2063.3 L351.6 2082.4 L359.9 2104.9 L368.3 2114.4 L376.8 2133.7 L384.9 2150.9 L393.1 2171.8 L401.3 2195.4 L409.4 2208.1 L416.7 2219.0 L424.9 2235.4 L433.1 2245.4 L441.2 2265.3 L449.4 2269.9 L457.6 2278.9 L465.7 2276.2 L473.9 2269.9 L481.2 2297.1 L489.3 2355.2 L497.5 2451.5 L506.3 2541.8 L513.6 2591.8 L521.8 2601.7 L529.9 2609.0 L538.6 2609.0 L547.2 2644.4 L555.0 2661.7 L562.6 2703.4 L569.9 2722.5 L578.0 2728.9 L585.3 2736.1 L594.4 2739.8 L602.6 2745.2 L609.8 2747.9 L618.0 2757.0 L625.3 2765.2 L633.4 2770.6 L640.7 2775.2 L648.9 2779.7 L656.1 2785.2 L664.3 2790.6 L672.5 2792.4 L679.7 2802.4 L687.9 2811.5 L696.1 2816.0 L704.2 2821.5 L712.4 2826.9 L719.7 2834.2 L727.9 2828.7 L735.1 2828.7 L743.3 2831.5 L750.6 2833.3 L758.7 2839.6 L767.5 2841.9 L775.3 2842.2 L783.2 2836.7 L791.0 2819.9 L798.9 2805.0 L806.7 2794.9 L814.5 2794.4 L822.4 2790.8 L830.2 2788.8 L838.1 2786.1 L845.9 2782.6 L853.7 2779.8 L861.6 2775.8 L869.4 2778.4 L877.3 2779.4 L885.1 2780.2 L893.0 2779.6 L900.8 2777.1 L908.6 2779.1 L916.5 2778.4 L924.3 2777.5 L932.2 2778.0 L940.0 2779.2 L947.8 2780.6 L955.7 2778.7 L963.5 2775.8 L971.4 2783.5 L979.2 2785.5 L987.0 2785.1 L994.9 2784.4 L1002.7 2783.4 L1010.6 2782.4 L1018.4 2781.8 L1026.2 2781.9 L1034.1 2785.3 L1041.9 2781.7 L1049.8 2782.6 L1057.6 2783.9 L1065.4 2782.2 L1073.3 2780.9 L1081.1 2783.3 L1089.0 2785.0 L1096.8 2786.1 L1104.6 2786.5 L1112.5 2784.9 L1120.3 2783.5 L1128.2 2782.6 L1136.0 2785.5 L1143.9 2788.8 L1151.7 2792.7 L1159.5 2796.7 L1167.4 2800.6 L1175.2 2804.0 L1183.1 2807.1 L1190.9 2809.7 L1198.7 2812.4 L1206.6 2815.7 L1214.4 2819.1 L1222.3 2822.6 L1230.1 2825.9 L1237.9 2829.1 L1245.8 2831.2 L1253.6 2832.9 L1261.5 2833.5 L1269.3 2833.9 L1277.1 2832.9 L1285.0 2831.9 L1292.8 2831.9 L1300.7 2831.8 L1308.5 2831.2 L1316.3 2830.6 L1324.2 2829.9 L1332.0 2829.5 L1339.9 2829.7 L1347.7 2830.3 L1355.5 2831.3 L1363.4 2832.8 L1371.2 2834.7 L1379.1 2836.7 L1386.9 2838.7 L1394.8 2842.1 L1402.6 2846.0 L1410.4 2851.0 L1418.3 2856.9 L1426.1 2860.2 L1434.0 2861.2 L1441.8 2860.8 L1449.6 2860.1 L1457.5 2859.2 L1465.3 2858.7 L1473.2 2858.3 L1481.0 2857.9 L1488.8 2857.5 L1496.7 2858.1 L1504.5 2858.9 L1512.4 2859.8 L1520.2 2860.7 L1528.0 2861.6 L1535.9 2862.6 L1543.7 2864.3 L1551.6 2866.1 L1559.4 2868.0 L1567.2 2869.5 L1575.1 2869.7 L1582.9 2870.6 L1590.8 2872.3 L1598.6 2874.1 L1606.4 2875.0 L1614.3 2875.6 L1622.1 2875.1 L1630.0 2874.4 L1637.8 2874.3 L1645.7 2875.2 L1653.5 2876.2 L1661.3 2877.3 L1669.2 2878.5 L1677.0 2879.1 L1684.9 2877.8 L1692.7 2877.4 L1700.5 2879.1 L1708.4 2881.3 L1716.2 2883.2 L1724.1 2883.2 L1731.9 2883.2 L1739.7 2884.0 L1747.6 2885.3 L1755.4 2884.7 L1763.3 2883.2 L1771.1 2882.1 L1778.9 2883.7 L1786.8 2885.4 L1794.6 2887.5 L1802.5 2889.4 L1810.3 2891.1 L1818.1 2892.8 L1826.0 2894.5 L1833.8 2896.1 L1841.7 2897.2 L1849.5 2898.2 L1857.3 2899.7 L1865.2 2902.3 L1873.0 2904.0 L1880.9 2904.3 L1888.7 2902.6 L1896.6 2900.8 L1904.4 2901.5 L1912.2 2902.5 L1920.1 2904.4 L1927.9 2902.8 L1935.8 2901.4 L1943.6 2901.0 L1951.4 2900.9 L1959.3 2902.1 L1967.1 2903.3 L1975.0 2904.7 L1982.8 2905.5 L1990.6 2903.8 L1998.5 2902.2 L2006.3 2901.9 L2014.2 2902.5 L2022.0 2903.3 L2029.8 2904.5 L2037.7 2905.8 L2045.5 2906.2 L2053.4 2906.6 L2061.2 2907.1 L2069.0 2907.7 L2076.9 2908.3 L2084.7 2909.1 L2092.6 2910.2 L2100.4 2911.2 L2108.2 2912.1 L2116.1 2913.0" fill="none" stroke="#00f" stroke-width="3" stroke-linejoin="round"/>
<path d="M242.4 1810.7L248.6 1800.1L254.8 1810.7zM250.2 1839.8L256.4 1829.2L262.6 1839.8zM257.9 1868.9L264.1 1858.3L270.3 1868.9zM266.0 1890.6L272.2 1880.0L278.4 1890.6zM273.8 1912.4L280.0 1901.8L286.2 1912.4zM281.8 1930.6L288.0 1920.0L294.2 1930.6zM289.6 1951.5L295.8 1940.9L302.0 1951.5zM297.8 1976.9L304.0 1966.3L310.2 1976.9zM306.0 1996.9L312.2 1986.3L318.4 1996.9zM313.8 2018.7L320.0 2008.1L326.2 2018.7zM321.8 2030.5L328.0 2019.9L334.2 2030.5zM329.6 2046.8L335.8 2036.2L342.0 2046.8zM337.8 2066.8L344.0 2056.2L350.2 2066.8zM345.4 2085.9L351.6 2075.3L357.8 2085.9zM353.7 2108.4L359.9 2097.8L366.1 2108.4zM362.1 2117.9L368.3 2107.3L374.5 2117.9zM370.6 2137.2L376.8 2126.6L383.0 2137.2zM378.7 2154.4L384.9 2143.8L391.1 2154.4zM386.9 2175.3L393.1 2164.7L399.3 2175.3zM395.1 2198.9L401.3 2188.3L407.5 2198.9zM403.2 2211.6L409.4 2201.0L415.6 2211.6zM410.5 2222.5L416.7 2211.9L422.9 2222.5zM418.7 2238.9L424.9 2228.3L431.1 2238.9zM426.9 2248.9L433.1 2238.3L439.3 2248.9zM435.0 2268.8L441.2 2258.2L447.4 2268.8zM443.2 2273.4L449.4 2262.8L455.6 2273.4zM451.4 2282.4L457.6 2271.8L463.8 2282.4zM459.5 2279.7L465.7 2269.1L471.9 2279.7zM467.7 2273.4L473.9 2262.8L480.1 2273.4zM475.0 2300.6L481.2 2290.0L487.4 2300.6zM483.1 2358.7L489.3 2348.1L495.5 2358.7zM491.3 2455.0L497.5 2444.4L503.7 2455.0zM500.1 2545.3L506.3 2534.7L512.5 2545.3zM507.4 2595.3L513.6 2584.7L519.8 2595.3zM515.6 2605.2L521.8 2594.6L528.0 2605.2zM523.7 2612.5L529.9 2601.9L536.1 2612.5zM532.4 2612.5L538.6 2601.9L544.8 2612.5zM541.0 2647.9L547.2 2637.3L553.4 2647.9zM548.8 2665.2L555.0 2654.6L561.2 2665.2zM556.4 2706.9L562.6 2696.3L568.8 2706.9zM563.7 2726.0L569.9 2715.4L576.1 2726.0zM571.8 2732.4L578.0 2721.8L584.2 2732.4zM579.1 2739.6L585.3 2729.0L591.5 2739.6zM588.2 2743.3L594.4 2732.7L600.6 2743.3zM596.4 2748.7L602.6 2738.1L608.8 2748.7zM603.6 2751.4L609.8 2740.8L616.0 2751.4zM611.8 2760.5L618.0 2749.9L624.2 2760.5zM619.1 2768.7L625.3 2758.1L631.5 2768.7zM627.2 2774.1L633.4 2763.5L639.6 2774.1zM634.5 2778.7L640.7 2768.1L646.9 2778.7zM642.7 2783.2L648.9 2772.6L655.1 2783.2zM649.9 2788.7L656.1 2778.1L662.3 2788.7zM658.1 2794.1L664.3 2783.5L670.5 2794.1zM666.3 2795.9L672.5 2785.3L678.7 2795.9zM673.5 2805.9L679.7 2795.3L685.9 2805.9zM681.7 2815.0L687.9 2804.4L694.1 2815.0zM689.9 2819.5L696.1 2808.9L702.3 2819.5zM698.0 2825.0L704.2 2814.4L710.4 2825.0zM706.2 2830.4L712.4 2819.8L718.6 2830.4zM713.5 2837.7L719.7 2827.1L725.9 2837.7zM721.7 2832.2L727.9 2821.6L734.1 2832.2zM728.9 2832.2L735.1 2821.6L741.3 2832.2zM737.1 2835.0L743.3 2824.4L749.5 2835.0zM744.4 2836.8L750.6 2826.2L756.8 2836.8zM752.5 2843.1L758.7 2832.5L764.9 2843.1zM761.3 2845.4L767.5 2834.8L773.7 2845.4zM769.1 2845.7L775.3 2835.1L781.5 2845.7zM777.0 2840.2L783.2 2829.6L789.4 2840.2zM784.8 2823.4L791.0 2812.8L797.2 2823.4zM792.7 2808.5L798.9 2797.9L805.1 2808.5zM800.5 2798.4L806.7 2787.8L812.9 2798.4zM808.3 2797.9L814.5 2787.3L820.7 2797.9zM816.2 2794.3L822.4 2783.7L828.6 2794.3zM824.0 2792.3L830.2 2781.7L836.4 2792.3zM831.9 2789.6L838.1 2779.0L844.3 2789.6zM839.7 2786.1L845.9 2775.5L852.1 2786.1zM847.5 2783.3L853.7 2772.7L859.9 2783.3zM855.4 2779.3L861.6 2768.7L867.8 2779.3zM863.2 2781.9L869.4 2771.3L875.6 2781.9zM871.1 2782.9L877.3 2772.3L883.5 2782.9zM878.9 2783.7L885.1 2773.1L891.3 2783.7zM886.8 2783.1L893.0 2772.5L899.2 2783.1zM894.6 2780.6L900.8 2770.0L907.0 2780.6zM902.4 2782.6L908.6 2772.0L914.8 2782.6zM910.3 2781.9L916.5 2771.3L922.7 2781.9zM918.1 2781.0L924.3 2770.4L930.5 2781.0zM926.0 2781.5L932.2 2770.9L938.4 2781.5zM933.8 2782.7L940.0 2772.1L946.2 2782.7zM941.6 2784.1L947.8 2773.5L954.0 2784.1zM949.5 2782.2L955.7 2771.6L961.9 2782.2zM957.3 2779.3L963.5 2768.7L969.7 2779.3zM965.2 2787.0L971.4 2776.4L977.6 2787.0zM973.0 2789.0L979.2 2778.4L985.4 2789.0zM980.8 2788.6L987.0 2778.0L993.2 2788.6zM988.7 2787.9L994.9 2777.3L1001.1 2787.9zM996.5 2786.9L1002.7 2776.3L1008.9 2786.9zM1004.4 2785.9L1010.6 2775.3L1016.8 2785.9zM1012.2 2785.3L1018.4 2774.7L1024.6 2785.3zM1020.0 2785.4L1026.2 2774.8L1032.4 2785.4zM1027.9 2788.8L1034.1 2778.2L1040.3 2788.8zM1035.7 2785.2L1041.9 2774.6L1048.1 2785.2zM1043.6 2786.1L1049.8 2775.5L1056.0 2786.1zM1051.4 2787.4L1057.6 2776.8L1063.8 2787.4zM1059.2 2785.7L1065.4 2775.1L1071.6 2785.7zM1067.1 2784.4L1073.3 2773.8L1079.5 2784.4zM1074.9 2786.8L1081.1 2776.2L1087.3 2786.8zM1082.8 2788.5L1089.0 2777.9L1095.2 2788.5zM1090.6 2789.6L1096.8 2779.0L1103.0 2789.6zM1098.4 2790.0L1104.6 2779.4L1110.8 2790.0zM1106.3 2788.4L1112.5 2777.8L1118.7 2788.4zM1114.1 2787.0L1120.3 2776.4L1126.5 2787.0zM1122.0 2786.1L1128.2 2775.5L1134.4 2786.1zM1129.8 2789.0L1136.0 2778.4L1142.2 2789.0zM1137.7 2792.3L1143.9 2781.7L1150.1 2792.3zM1145.5 2796.2L1151.7 2785.6L1157.9 2796.2zM1153.3 2800.2L1159.5 2789.6L1165.7 2800.2zM1161.2 2804.1L1167.4 2793.5L1173.6 2804.1zM1169.0 2807.5L1175.2 2796.9L1181.4 2807.5zM1176.9 2810.6L1183.1 2800.0L1189.3 2810.6zM1184.7 2813.2L1190.9 2802.6L1197.1 2813.2zM1192.5 2815.9L1198.7 2805.3L1204.9 2815.9zM1200.4 2819.2L1206.6 2808.6L1212.8 2819.2zM1208.2 2822.6L1214.4 2812.0L1220.6 2822.6zM1216.1 2826.1L1222.3 2815.5L1228.5 2826.1zM1223.9 2829.4L1230.1 2818.8L1236.3 2829.4zM1231.7 2832.6L1237.9 2822.0L1244.1 2832.6zM1239.6 2834.7L1245.8 2824.1L1252.0 2834.7zM1247.4 2836.4L1253.6 2825.8L1259.8 2836.4zM1255.3 2837.0L1261.5 2826.4L1267.7 2837.0zM1263.1 2837.4L1269.3 2826.8L1275.5 2837.4zM1270.9 2836.4L1277.1 2825.8L1283.3 2836.4zM1278.8 2835.4L1285.0 2824.8L1291.2 2835.4zM1286.6 2835.4L1292.8 2824.8L1299.0 2835.4zM1294.5 2835.3L1300.7 2824.7L1306.9 2835.3zM1302.3 2834.7L1308.5 2824.1L1314.7 2834.7zM1310.1 2834.1L1316.3 2823.5L1322.5 2834.1zM1318.0 2833.4L1324.2 2822.8L1330.4 2833.4zM1325.8 2833.0L1332.0 2822.4L1338.2 2833.0zM1333.7 2833.2L1339.9 2822.6L1346.1 2833.2zM1341.5 2833.8L1347.7 2823.2L1353.9 2833.8zM1349.3 2834.8L1355.5 2824.2L1361.7 2834.8zM1357.2 2836.3L1363.4 2825.7L1369.6 2836.3zM1365.0 2838.2L1371.2 2827.6L1377.4 2838.2zM1372.9 2840.2L1379.1 2829.6L1385.3 2840.2zM1380.7 2842.2L1386.9 2831.6L1393.1 2842.2zM1388.6 2845.6L1394.8 2835.0L1401.0 2845.6zM1396.4 2849.5L1402.6 2838.9L1408.8 2849.5zM1404.2 2854.5L1410.4 2843.9L1416.6 2854.5zM1412.1 2860.4L1418.3 2849.8L1424.5 2860.4zM1419.9 2863.7L1426.1 2853.1L1432.3 2863.7zM1427.8 2864.7L1434.0 2854.1L1440.2 2864.7zM1435.6 2864.3L1441.8 2853.7L1448.0 2864.3zM1443.4 2863.6L1449.6 2853.0L1455.8 2863.6zM1451.3 2862.7L1457.5 2852.1L1463.7 2862.7zM1459.1 2862.2L1465.3 2851.6L1471.5 2862.2zM1467.0 2861.8L1473.2 2851.2L1479.4 2861.8zM1474.8 2861.4L1481.0 2850.8L1487.2 2861.4zM1482.6 2861.0L1488.8 2850.4L1495.0 2861.0zM1490.5 2861.6L1496.7 2851.0L1502.9 2861.6zM1498.3 2862.4L1504.5 2851.8L1510.7 2862.4zM1506.2 2863.3L1512.4 2852.7L1518.6 2863.3zM1514.0 2864.2L1520.2 2853.6L1526.4 2864.2zM1521.8 2865.1L1528.0 2854.5L1534.2 2865.1zM1529.7 2866.1L1535.9 2855.5L1542.1 2866.1zM1537.5 2867.8L1543.7 2857.2L1549.9 2867.8zM1545.4 2869.6L1551.6 2859.0L1557.8 2869.6zM1553.2 2871.5L1559.4 2860.9L1565.6 2871.5zM1561.0 2873.0L1567.2 2862.4L1573.4 2873.0zM1568.9 2873.2L1575.1 2862.6L1581.3 2873.2zM1576.7 2874.1L1582.9 2863.5L1589.1 2874.1zM1584.6 2875.8L1590.8 2865.2L1597.0 2875.8zM1592.4 2877.6L1598.6 2867.0L1604.8 2877.6zM1600.2 2878.5L1606.4 2867.9L1612.6 2878.5zM1608.1 2879.1L1614.3 2868.5L1620.5 2879.1zM1615.9 2878.6L1622.1 2868.0L1628.3 2878.6zM1623.8 2877.9L1630.0 2867.3L1636.2 2877.9zM1631.6 2877.8L1637.8 2867.2L1644.0 2877.8zM1639.5 2878.7L1645.7 2868.1L1651.9 2878.7zM1647.3 2879.7L1653.5 2869.1L1659.7 2879.7zM1655.1 2880.8L1661.3 2870.2L1667.5 2880.8zM1663.0 2882.0L1669.2 2871.4L1675.4 2882.0zM1670.8 2882.6L1677.0 2872.0L1683.2 2882.6zM1678.7 2881.3L1684.9 2870.7L1691.1 2881.3zM1686.5 2880.9L1692.7 2870.3L1698.9 2880.9zM1694.3 2882.6L1700.5 2872.0L1706.7 2882.6zM1702.2 2884.8L1708.4 2874.2L1714.6 2884.8zM1710.0 2886.7L1716.2 2876.1L1722.4 2886.7zM1717.9 2886.7L1724.1 2876.1L1730.3 2886.7zM1725.7 2886.7L1731.9 2876.1L1738.1 2886.7zM1733.5 2887.5L1739.7 2876.9L1745.9 2887.5zM1741.4 2888.8L1747.6 2878.2L1753.8 2888.8zM1749.2 2888.2L1755.4 2877.6L1761.6 2888.2zM1757.1 2886.7L1763.3 2876.1L1769.5 2886.7zM1764.9 2885.6L1771.1 2875.0L1777.3 2885.6zM1772.7 2887.2L1778.9 2876.6L1785.1 2887.2zM1780.6 2888.9L1786.8 2878.3L1793.0 2888.9zM1788.4 2891.0L1794.6 2880.4L1800.8 2891.0zM1796.3 2892.9L1802.5 2882.3L1808.7 2892.9zM1804.1 2894.6L1810.3 2884.0L1816.5 2894.6zM1811.9 2896.3L1818.1 2885.7L1824.3 2896.3zM1819.8 2898.0L1826.0 2887.4L1832.2 2898.0zM1827.6 2899.6L1833.8 2889.0L1840.0 2899.6zM1835.5 2900.7L1841.7 2890.1L1847.9 2900.7zM1843.3 2901.7L1849.5 2891.1L1855.7 2901.7zM1851.1 2903.2L1857.3 2892.6L1863.5 2903.2zM1859.0 2905.8L1865.2 2895.2L1871.4 2905.8zM1866.8 2907.5L1873.0 2896.9L1879.2 2907.5zM1874.7 2907.8L1880.9 2897.2L1887.1 2907.8zM1882.5 2906.1L1888.7 2895.5L1894.9 2906.1zM1890.4 2904.3L1896.6 2893.7L1902.8 2904.3zM1898.2 2905.0L1904.4 2894.4L1910.6 2905.0zM1906.0 2906.0L1912.2 2895.4L1918.4 2906.0zM1913.9 2907.9L1920.1 2897.3L1926.3 2907.9zM1921.7 2906.3L1927.9 2895.7L1934.1 2906.3zM1929.6 2904.9L1935.8 2894.3L1942.0 2904.9zM1937.4 2904.5L1943.6 2893.9L1949.8 2904.5zM1945.2 2904.4L1951.4 2893.8L1957.6 2904.4zM1953.1 2905.6L1959.3 2895.0L1965.5 2905.6zM1960.9 2906.8L1967.1 2896.2L1973.3 2906.8zM1968.8 2908.2L1975.0 2897.6L1981.2 2908.2zM1976.6 2909.0L1982.8 2898.4L1989.0 2909.0zM1984.4 2907.3L1990.6 2896.7L1996.8 2907.3zM1992.3 2905.7L1998.5 2895.1L2004.7 2905.7zM2000.1 2905.4L2006.3 2894.8L2012.5 2905.4zM2008.0 2906.0L2014.2 2895.4L2020.4 2906.0zM2015.8 2906.8L2022.0 2896.2L2028.2 2906.8zM2023.6 2908.0L2029.8 2897.4L2036.0 2908.0zM2031.5 2909.3L2037.7 2898.7L2043.9 2909.3zM2039.3 2909.7L2045.5 2899.1L2051.7 2909.7zM2047.2 2910.1L2053.4 2899.5L2059.6 2910.1zM2055.0 2910.6L2061.2 2900.0L2067.4 2910.6zM2062.8 2911.2L2069.0 2900.6L2075.2 2911.2zM2070.7 2911.8L2076.9 2901.2L2083.1 2911.8zM2078.5 2912.6L2084.7 2902.0L2090.9 2912.6zM2086.4 2913.7L2092.6 2903.1L2098.8 2913.7zM2094.2 2914.7L2100.4 2904.1L2106.6 2914.7zM2102.0 2915.6L2108.2 2905.0L2114.4 2915.6zM2109.9 2916.5L2116.1 2905.9L2122.3 2916.5z" fill="#00f"/>
<path d="M263.1 1819.0 L271.3 1856.2 L279.1 1885.2 L287.3 1905.2 L295.3 1927.0 L303.1 1951.5 L311.3 1966.0 L319.1 1989.7 L327.2 2004.2 L335.2 2022.3 L343.4 2044.1 L351.2 2059.6 L359.4 2081.4 L367.6 2095.0 L375.5 2110.5 L383.7 2136.3 L391.3 2146.3 L399.5 2167.2 L407.6 2178.1 L415.8 2199.0 L424.0 2223.5 L432.1 2228.9 L440.3 2245.3 L448.5 2250.7 L456.3 2264.3 L464.8 2278.9 L472.6 2271.6 L481.2 2279.8 L488.4 2304.3 L496.2 2384.2 L504.8 2473.2 L512.7 2531.8 L520.5 2593.5 L528.5 2585.3 L536.3 2641.6 L544.5 2645.2 L552.6 2685.2 L559.9 2679.7 L568.4 2671.6 L576.2 2675.2 L584.4 2717.9 L592.6 2753.3 L600.4 2786.0 L608.4 2767.8 L616.2 2779.6 L623.4 2803.2 L631.2 2827.7 L639.4 2835.0 L647.0 2841.4 L655.6 2855.0 L663.4 2864.1 L671.6 2871.3 L678.8 2876.8 L686.5 2884.4 L694.3 2894.7 L702.2 2900.2 L710.0 2909.8 L717.9 2910.6 L725.7 2908.7 L733.5 2907.3 L741.4 2906.2 L749.2 2908.5 L757.1 2912.4 L764.9 2914.4 L772.7 2914.4 L780.6 2911.5 L788.4 2909.5 L796.3 2905.6 L804.1 2903.9 L812.0 2907.7 L819.8 2910.4 L827.6 2908.2 L835.5 2903.4 L843.3 2896.7 L851.2 2892.7 L859.0 2886.1 L866.8 2878.6 L874.7 2872.7 L882.5 2866.5 L890.4 2863.9 L898.2 2865.8 L906.0 2867.0 L913.9 2867.3 L921.7 2867.0 L929.6 2868.4 L937.4 2868.4 L945.2 2864.9 L953.1 2860.4 L960.9 2858.4 L968.8 2855.4 L976.6 2851.0 L984.4 2845.9 L992.3 2844.7 L1000.1 2847.0 L1008.0 2852.3 L1015.8 2857.1 L1023.6 2861.1 L1031.5 2864.6 L1039.3 2867.1 L1047.2 2869.2 L1055.0 2870.5 L1062.9 2871.1 L1070.7 2870.4 L1078.5 2869.9 L1086.4 2869.6 L1094.2 2870.1 L1102.1 2871.2 L1109.9 2873.2 L1117.7 2875.3 L1125.6 2877.5 L1133.4 2880.1 L1141.3 2882.8 L1149.1 2884.8 L1156.9 2886.9 L1164.8 2889.6 L1172.6 2892.6 L1180.5 2896.5 L1188.3 2900.4 L1196.1 2904.8 L1204.0 2907.4 L1211.8 2908.3 L1219.7 2909.2 L1227.5 2910.4 L1235.3 2911.7 L1243.2 2913.1 L1251.0 2914.4 L1258.9 2915.7 L1266.7 2917.0 L1274.5 2918.2 L1282.4 2919.0 L1290.2 2919.8 L1298.1 2920.6 L1305.9 2922.1 L1313.8 2923.6 L1321.6 2924.1 L1329.4 2924.4 L1337.3 2927.1 L1345.1 2931.3 L1353.0 2932.6 L1360.8 2933.8 L1368.6 2934.4 L1376.5 2934.1 L1384.3 2933.8 L1392.2 2933.2 L1400.0 2932.5 L1407.8 2934.1 L1415.7 2935.6 L1423.5 2937.3 L1431.4 2939.5 L1439.2 2941.8 L1447.0 2941.5 L1454.9 2941.0 L1462.7 2940.5 L1470.6 2942.3 L1478.4 2944.1 L1486.2 2945.8 L1494.1 2947.6 L1501.9 2949.3 L1509.8 2950.7 L1517.6 2951.9 L1525.4 2953.0 L1533.3 2953.3 L1541.1 2953.5 L1549.0 2953.8 L1556.8 2953.9 L1564.7 2954.1 L1572.5 2954.2 L1580.3 2954.4 L1588.2 2954.8 L1596.0 2955.6 L1603.9 2956.4 L1611.7 2956.9 L1619.5 2956.2 L1627.4 2955.6 L1635.2 2955.0 L1643.1 2956.0 L1650.9 2957.0 L1658.7 2958.4 L1666.6 2960.4 L1674.4 2961.6 L1682.3 2962.0 L1690.1 2962.5 L1697.9 2962.3 L1705.8 2962.1 L1713.6 2962.4 L1721.5 2963.1 L1729.3 2963.9 L1737.1 2964.6 L1745.0 2964.9 L1752.8 2965.2 L1760.7 2965.5 L1768.5 2965.5 L1776.3 2965.5 L1784.2 2966.4 L1792.0 2968.1 L1799.9 2969.0 L1807.7 2969.4 L1815.6 2969.7 L1823.4 2970.0 L1831.2 2970.3 L1839.1 2970.6 L1846.9 2970.9 L1854.8 2971.1 L1862.6 2971.5 L1870.4 2972.0 L1878.3 2972.5 L1886.1 2973.2 L1894.0 2974.3 L1901.8 2974.1 L1909.6 2973.7 L1917.5 2973.3 L1925.3 2973.0 L1933.2 2973.1 L1941.0 2973.2 L1948.8 2973.4 L1956.7 2973.9 L1964.5 2974.7 L1972.4 2974.0 L1980.2 2973.0 L1988.0 2972.9 L1995.9 2973.8 L2003.7 2974.4 L2011.6 2974.4 L2019.4 2974.4 L2027.2 2974.4 L2035.1 2974.4 L2042.9 2974.4 L2050.8 2974.4 L2058.6 2974.5 L2066.5 2974.5 L2074.3 2974.6 L2082.1 2974.6 L2090.0 2974.6 L2097.8 2974.7 L2105.7 2974.7 L2113.5 2974.8" fill="none" stroke="#008000" stroke-width="3" stroke-linejoin="round"/>
<path d="M258.6 1814.5h9v9h-9zM266.8 1851.7h9v9h-9zM274.6 1880.7h9v9h-9zM282.8 1900.7h9v9h-9zM290.8 1922.5h9v9h-9zM298.6 1947.0h9v9h-9zM306.8 1961.5h9v9h-9zM314.6 1985.2h9v9h-9zM322.7 1999.7h9v9h-9zM330.7 2017.8h9v9h-9zM338.9 2039.6h9v9h-9zM346.7 2055.1h9v9h-9zM354.9 2076.9h9v9h-9zM363.1 2090.5h9v9h-9zM371.0 2106.0h9v9h-9zM379.2 2131.8h9v9h-9zM386.8 2141.8h9v9h-9zM395.0 2162.7h9v9h-9zM403.1 2173.6h9v9h-9zM411.3 2194.5h9v9h-9zM419.5 2219.0h9v9h-9zM427.6 2224.4h9v9h-9zM435.8 2240.8h9v9h-9zM444.0 2246.2h9v9h-9zM451.8 2259.8h9v9h-9zM460.3 2274.4h9v9h-9zM468.1 2267.1h9v9h-9zM476.7 2275.3h9v9h-9zM483.9 2299.8h9v9h-9zM491.7 2379.7h9v9h-9zM500.3 2468.7h9v9h-9zM508.2 2527.3h9v9h-9zM516.0 2589.0h9v9h-9zM524.0 2580.8h9v9h-9zM531.8 2637.1h9v9h-9zM540.0 2640.7h9v9h-9zM548.1 2680.7h9v9h-9zM555.4 2675.2h9v9h-9zM563.9 2667.1h9v9h-9zM571.7 2670.7h9v9h-9zM579.9 2713.4h9v9h-9zM588.1 2748.8h9v9h-9zM595.9 2781.5h9v9h-9zM603.9 2763.3h9v9h-9zM611.7 2775.1h9v9h-9zM618.9 2798.7h9v9h-9zM626.7 2823.2h9v9h-9zM634.9 2830.5h9v9h-9zM642.5 2836.9h9v9h-9zM651.1 2850.5h9v9h-9zM658.9 2859.6h9v9h-9zM667.1 2866.8h9v9h-9zM674.3 2872.3h9v9h-9zM682.0 2879.9h9v9h-9zM689.8 2890.2h9v9h-9zM697.7 2895.7h9v9h-9zM705.5 2905.3h9v9h-9zM713.4 2906.1h9v9h-9zM721.2 2904.2h9v9h-9zM729.0 2902.8h9v9h-9zM736.9 2901.7h9v9h-9zM744.7 2904.0h9v9h-9zM752.6 2907.9h9v9h-9zM760.4 2909.9h9v9h-9zM768.2 2909.9h9v9h-9zM776.1 2907.0h9v9h-9zM783.9 2905.0h9v9h-9zM791.8 2901.1h9v9h-9zM799.6 2899.4h9v9h-9zM807.5 2903.2h9v9h-9zM815.3 2905.9h9v9h-9zM823.1 2903.7h9v9h-9zM831.0 2898.9h9v9h-9zM838.8 2892.2h9v9h-9zM846.7 2888.2h9v9h-9zM854.5 2881.6h9v9h-9zM862.3 2874.1h9v9h-9zM870.2 2868.2h9v9h-9zM878.0 2862.0h9v9h-9zM885.9 2859.4h9v9h-9zM893.7 2861.3h9v9h-9zM901.5 2862.5h9v9h-9zM909.4 2862.8h9v9h-9zM917.2 2862.5h9v9h-9zM925.1 2863.9h9v9h-9zM932.9 2863.9h9v9h-9zM940.7 2860.4h9v9h-9zM948.6 2855.9h9v9h-9zM956.4 2853.9h9v9h-9zM964.3 2850.9h9v9h-9zM972.1 2846.5h9v9h-9zM979.9 2841.4h9v9h-9zM987.8 2840.2h9v9h-9zM995.6 2842.5h9v9h-9zM1003.5 2847.8h9v9h-9zM1011.3 2852.6h9v9h-9zM1019.1 2856.6h9v9h-9zM1027.0 2860.1h9v9h-9zM1034.8 2862.6h9v9h-9zM1042.7 2864.7h9v9h-9zM1050.5 2866.0h9v9h-9zM1058.4 2866.6h9v9h-9zM1066.2 2865.9h9v9h-9zM1074.0 2865.4h9v9h-9zM1081.9 2865.1h9v9h-9zM1089.7 2865.6h9v9h-9zM1097.6 2866.7h9v9h-9zM1105.4 2868.7h9v9h-9zM1113.2 2870.8h9v9h-9zM1121.1 2873.0h9v9h-9zM1128.9 2875.6h9v9h-9zM1136.8 2878.3h9v9h-9zM1144.6 2880.3h9v9h-9zM1152.4 2882.4h9v9h-9zM1160.3 2885.1h9v9h-9zM1168.1 2888.1h9v9h-9zM1176.0 2892.0h9v9h-9zM1183.8 2895.9h9v9h-9zM1191.6 2900.3h9v9h-9zM1199.5 2902.9h9v9h-9zM1207.3 2903.8h9v9h-9zM1215.2 2904.7h9v9h-9zM1223.0 2905.9h9v9h-9zM1230.8 2907.2h9v9h-9zM1238.7 2908.6h9v9h-9zM1246.5 2909.9h9v9h-9zM1254.4 2911.2h9v9h-9zM1262.2 2912.5h9v9h-9zM1270.0 2913.7h9v9h-9zM1277.9 2914.5h9v9h-9zM1285.7 2915.3h9v9h-9zM1293.6 2916.1h9v9h-9zM1301.4 2917.6h9v9h-9zM1309.3 2919.1h9v9h-9zM1317.1 2919.6h9v9h-9zM1324.9 2919.9h9v9h-9zM1332.8 2922.6h9v9h-9zM1340.6 2926.8h9v9h-9zM1348.5 2928.1h9v9h-9zM1356.3 2929.3h9v9h-9zM1364.1 2929.9h9v9h-9zM1372.0 2929.6h9v9h-9zM1379.8 2929.3h9v9h-9zM1387.7 2928.7h9v9h-9zM1395.5 2928.0h9v9h-9zM1403.3 2929.6h9v9h-9zM1411.2 2931.1h9v9h-9zM1419.0 2932.8h9v9h-9zM1426.9 2935.0h9v9h-9zM1434.7 2937.3h9v9h-9zM1442.5 2937.0h9v9h-9zM1450.4 2936.5h9v9h-9zM1458.2 2936.0h9v9h-9zM1466.1 2937.8h9v9h-9zM1473.9 2939.6h9v9h-9zM1481.7 2941.3h9v9h-9zM1489.6 2943.1h9v9h-9zM1497.4 2944.8h9v9h-9zM1505.3 2946.2h9v9h-9zM1513.1 2947.4h9v9h-9zM1520.9 2948.5h9v9h-9zM1528.8 2948.8h9v9h-9zM1536.6 2949.0h9v9h-9zM1544.5 2949.3h9v9h-9zM1552.3 2949.4h9v9h-9zM1560.2 2949.6h9v9h-9zM1568.0 2949.7h9v9h-9zM1575.8 2949.9h9v9h-9zM1583.7 2950.3h9v9h-9zM1591.5 2951.1h9v9h-9zM1599.4 2951.9h9v9h-9zM1607.2 2952.4h9v9h-9zM1615.0 2951.7h9v9h-9zM1622.9 2951.1h9v9h-9zM1630.7 2950.5h9v9h-9zM1638.6 2951.5h9v9h-9zM1646.4 2952.5h9v9h-9zM1654.2 2953.9h9v9h-9zM1662.1 2955.9h9v9h-9zM1669.9 2957.1h9v9h-9zM1677.8 2957.5h9v9h-9zM1685.6 2958.0h9v9h-9zM1693.4 2957.8h9v9h-9zM1701.3 2957.6h9v9h-9zM1709.1 2957.9h9v9h-9zM1717.0 2958.6h9v9h-9zM1724.8 2959.4h9v9h-9zM1732.6 2960.1h9v9h-9zM1740.5 2960.4h9v9h-9zM1748.3 2960.7h9v9h-9zM1756.2 2961.0h9v9h-9zM1764.0 2961.0h9v9h-9zM1771.8 2961.0h9v9h-9zM1779.7 2961.9h9v9h-9zM1787.5 2963.6h9v9h-9zM1795.4 2964.5h9v9h-9zM1803.2 2964.9h9v9h-9zM1811.1 2965.2h9v9h-9zM1818.9 2965.5h9v9h-9zM1826.7 2965.8h9v9h-9zM1834.6 2966.1h9v9h-9zM1842.4 2966.4h9v9h-9zM1850.3 2966.6h9v9h-9zM1858.1 2967.0h9v9h-9zM1865.9 2967.5h9v9h-9zM1873.8 2968.0h9v9h-9zM1881.6 2968.7h9v9h-9zM1889.5 2969.8h9v9h-9zM1897.3 2969.6h9v9h-9zM1905.1 2969.2h9v9h-9zM1913.0 2968.8h9v9h-9zM1920.8 2968.5h9v9h-9zM1928.7 2968.6h9v9h-9zM1936.5 2968.7h9v9h-9zM1944.3 2968.9h9v9h-9zM1952.2 2969.4h9v9h-9zM1960.0 2970.2h9v9h-9zM1967.9 2969.5h9v9h-9zM1975.7 2968.5h9v9h-9zM1983.5 2968.4h9v9h-9zM1991.4 2969.3h9v9h-9zM1999.2 2969.9h9v9h-9zM2007.1 2969.9h9v9h-9zM2014.9 2969.9h9v9h-9zM2022.7 2969.9h9v9h-9zM2030.6 2969.9h9v9h-9zM2038.4 2969.9h9v9h-9zM2046.3 2969.9h9v9h-9zM2054.1 2970.0h9v9h-9zM2062.0 2970.0h9v9h-9zM2069.8 2970.1h9v9h-9zM2077.6 2970.1h9v9h-9zM2085.5 2970.1h9v9h-9zM2093.3 2970.2h9v9h-9zM2101.2 2970.2h9v9h-9zM2109.0 2970.3h9v9h-9z" fill="#008000"/>
<path d="M250.5 2823.8L258.1 2817.9M266.6 2811.3L274.5 2801.1M282.6 2790.6L290.6 2777.6M298.6 2764.7L306.8 2747.8M314.7 2731.5L322.9 2712.6M330.8 2694.6L339.0 2674.1M346.8 2654.7L355.1 2634.0M362.9 2614.6L371.1 2593.7M378.9 2574.1L386.9 2552.0M395.0 2529.8L403.0 2507.8M411.0 2486.1L418.0 2463.7M427.1 2434.7L435.3 2416.7M443.1 2399.6L451.2 2384.4M459.1 2369.6L467.2 2356.0M475.2 2342.5L483.3 2327.5M491.2 2312.9L499.5 2291.5M507.3 2271.5L514.7 2249.2M523.4 2223.4L530.4 2200.9M539.4 2172.7L546.5 2150.3M555.5 2122.0L563.1 2099.8M571.1 2076.6L578.8 2054.4M586.8 2031.5L594.8 2012.2M602.4 1993.9L610.3 1979.8M618.0 1965.9L625.8 1954.8M633.7 1943.5L641.4 1933.5M649.3 1923.1L656.9 1915.1M665.0 1906.5L672.5 1899.4M680.6 1891.7L688.0 1886.7M696.3 1881.1L703.7 1876.1M711.9 1870.4L719.2 1867.3M727.6 1863.7L734.8 1861.5M743.2 1858.9L750.4 1857.2M758.9 1855.1L766.0 1853.8M774.5 1852.1L781.7 1851.3M790.2 1850.2L797.3 1849.3M805.8 1848.1L813.0 1847.2M821.5 1846.1L828.6 1845.4M837.1 1844.6L844.3 1844.0M852.8 1843.4L859.9 1842.8M868.4 1842.2L875.6 1841.9M884.1 1841.5L891.2 1841.2M899.7 1840.9L906.9 1840.4M915.4 1839.9L922.5 1839.3M931.0 1838.6L938.2 1837.6M946.7 1836.3L953.8 1835.0M962.3 1833.4L969.5 1833.4M978.0 1833.6L985.1 1834.2M993.6 1835.0L1000.8 1835.4M1009.3 1835.8L1016.4 1835.3M1024.9 1834.7L1032.1 1834.4M1040.6 1834.0L1047.7 1833.7M1056.2 1833.4L1063.4 1833.2M1071.9 1832.9L1079.0 1832.8M1087.5 1832.6L1094.7 1832.5M1103.2 1832.3L1110.3 1832.4M1118.8 1832.4L1126.0 1832.5M1134.5 1832.6L1141.6 1832.6M1150.2 1832.5L1157.3 1832.3M1165.8 1832.1L1172.9 1831.8M1181.5 1831.6L1188.6 1831.5M1197.1 1831.5L1204.2 1831.5M1212.8 1831.5L1219.9 1831.5M1228.4 1831.5L1235.5 1831.5M1244.1 1831.5L1251.2 1831.5M1259.7 1831.5L1266.8 1831.4M1275.4 1831.2L1282.5 1831.1M1291.0 1830.9L1298.1 1830.8M1306.7 1830.7L1313.8 1830.7M1322.3 1830.6L1329.4 1830.6M1338.0 1830.6L1345.1 1830.5M1353.6 1830.5L1360.7 1830.5M1369.3 1830.4L1376.4 1830.4M1384.9 1830.4L1392.0 1830.3M1400.6 1830.3L1407.7 1830.3M1416.2 1830.2L1423.3 1830.2M1431.9 1830.2L1439.0 1830.1M1447.5 1830.1L1454.6 1830.1M1463.2 1830.0L1470.3 1830.0M1478.8 1829.9L1485.9 1829.8M1494.5 1829.6L1501.6 1829.5M1510.1 1829.4L1517.2 1829.3M1525.8 1829.2L1532.9 1829.1M1541.4 1828.9L1548.5 1828.9M1557.1 1828.8L1564.2 1828.8M1572.7 1828.8L1579.8 1828.8M1588.4 1828.8L1595.5 1828.8M1604.0 1828.8L1611.1 1828.8M1619.7 1828.8L1626.8 1828.8M1635.3 1828.9L1642.4 1828.9M1651.0 1829.0L1658.1 1829.1M1666.6 1829.2L1673.7 1829.2M1682.3 1829.3L1689.4 1829.4M1697.9 1829.5L1705.0 1829.5M1713.6 1829.6L1720.7 1829.7M1729.2 1829.7L1736.3 1829.7M1744.9 1829.8L1752.0 1829.8M1760.5 1829.9L1767.6 1829.9M1776.2 1829.9L1783.3 1829.9M1791.8 1830.0L1798.9 1829.9M1807.5 1829.7L1814.6 1829.6M1823.1 1829.5L1830.2 1829.4M1838.8 1829.3L1845.9 1829.2M1854.4 1829.0L1861.5 1828.9M1870.1 1828.8L1877.2 1828.9M1885.7 1829.0L1892.8 1829.0M1901.4 1829.1L1908.5 1829.2M1917.0 1829.3L1924.1 1829.3M1932.7 1829.4L1939.8 1829.5M1948.3 1829.6L1955.4 1829.6M1964.0 1829.5L1971.1 1829.5M1979.6 1829.4L1986.7 1829.4M1995.3 1829.4L2002.4 1829.3M2010.9 1829.3L2018.0 1829.3M2026.6 1829.2L2033.7 1829.1M2042.2 1829.1L2049.3 1829.0M2057.9 1828.9L2065.0 1828.8M2073.5 1828.6L2080.6 1828.2M2089.2 1827.7L2096.3 1826.9M2104.8 1826.1L2111.8 1823.3" fill="none" stroke="#f00" stroke-width="6.5" stroke-linecap="round"/>
<g stroke="#000" stroke-width="5" stroke-linecap="round"><line x1="224.5" y1="1399.5" x2="224.5" y2="1421.5" /><line x1="384" y1="1399.5" x2="384" y2="1410" /><line x1="543.5" y1="1399.5" x2="543.5" y2="1421.5" /><line x1="703" y1="1399.5" x2="703" y2="1410" /><line x1="862.5" y1="1399.5" x2="862.5" y2="1421.5" /><line x1="1022" y1="1399.5" x2="1022" y2="1410" /><line x1="1181.5" y1="1399.5" x2="1181.5" y2="1421.5" /><line x1="1341" y1="1399.5" x2="1341" y2="1410" /><line x1="1500.5" y1="1399.5" x2="1500.5" y2="1421.5" /><line x1="1660" y1="1399.5" x2="1660" y2="1410" /><line x1="1819.5" y1="1399.5" x2="1819.5" y2="1421.5" /><line x1="1979" y1="1399.5" x2="1979" y2="1410" /><line x1="2138.5" y1="1399.5" x2="2138.5" y2="1421.5" /><line x1="224.5" y1="1399.5" x2="200.5" y2="1399.5" /><line x1="224.5" y1="1262.9" x2="212.5" y2="1262.9" /><line x1="224.5" y1="1126.3" x2="200.5" y2="1126.3" /><line x1="224.5" y1="989.7" x2="212.5" y2="989.7" /><line x1="224.5" y1="853.1" x2="200.5" y2="853.1" /><line x1="224.5" y1="716.5" x2="212.5" y2="716.5" /><line x1="224.5" y1="579.9" x2="200.5" y2="579.9" /><line x1="224.5" y1="443.3" x2="212.5" y2="443.3" /><line x1="224.5" y1="306.7" x2="200.5" y2="306.7" /><line x1="224.5" y1="170.1" x2="212.5" y2="170.1" /><line x1="224.5" y1="33.5" x2="200.5" y2="33.5" /></g>
<path d="M2138.5 33.5 H224.5 V1399.5 H2138.5" fill="none" stroke="#000" stroke-width="5" stroke-linecap="square"/>
<g stroke="#f00" stroke-width="5" stroke-linecap="round"><line x1="2138.5" y1="1399.5" x2="2161" y2="1399.5" /><line x1="2138.5" y1="1323.6" x2="2149.5" y2="1323.6" /><line x1="2138.5" y1="1247.7" x2="2161" y2="1247.7" /><line x1="2138.5" y1="1171.8" x2="2149.5" y2="1171.8" /><line x1="2138.5" y1="1095.9" x2="2161" y2="1095.9" /><line x1="2138.5" y1="1020.1" x2="2149.5" y2="1020.1" /><line x1="2138.5" y1="944.2" x2="2161" y2="944.2" /><line x1="2138.5" y1="868.3" x2="2149.5" y2="868.3" /><line x1="2138.5" y1="792.4" x2="2161" y2="792.4" /><line x1="2138.5" y1="716.5" x2="2149.5" y2="716.5" /><line x1="2138.5" y1="640.6" x2="2161" y2="640.6" /><line x1="2138.5" y1="564.7" x2="2149.5" y2="564.7" /><line x1="2138.5" y1="488.8" x2="2161" y2="488.8" /><line x1="2138.5" y1="412.9" x2="2149.5" y2="412.9" /><line x1="2138.5" y1="337.1" x2="2161" y2="337.1" /><line x1="2138.5" y1="261.2" x2="2149.5" y2="261.2" /><line x1="2138.5" y1="185.3" x2="2161" y2="185.3" /><line x1="2138.5" y1="109.4" x2="2149.5" y2="109.4" /><line x1="2138.5" y1="33.5" x2="2161" y2="33.5" /></g>
<line x1="2138.5" y1="31" x2="2138.5" y2="1402" stroke="#f00" stroke-width="5"/>
<g font-family="Liberation Serif, serif" font-size="51.00" fill="#000"><text x="185" y="1415" text-anchor="end">0</text><text x="185" y="1141.8" text-anchor="end">50</text><text x="185" y="868.6" text-anchor="end">100</text><text x="185" y="595.4" text-anchor="end">150</text><text x="185" y="322.2" text-anchor="end">200</text><text x="185" y="49" text-anchor="end">250</text><text x="224.5" y="1477" text-anchor="middle">0</text><text x="543.5" y="1477" text-anchor="middle">20</text><text x="862.5" y="1477" text-anchor="middle">40</text><text x="1181.5" y="1477" text-anchor="middle">60</text><text x="1500.5" y="1477" text-anchor="middle">80</text><text x="1819.5" y="1477" text-anchor="middle">100</text><text x="2138.5" y="1477" text-anchor="middle">120</text><text x="2178.5" y="1415">0</text><text x="2178.5" y="1263.2">20</text><text x="2178.5" y="1111.4">40</text><text x="2178.5" y="959.7">60</text><text x="2178.5" y="807.9">80</text><text x="2178.5" y="656.1">100</text><text x="2178.5" y="504.3">120</text><text x="2178.5" y="352.6">140</text><text x="2178.5" y="200.8">160</text><text x="2178.5" y="49">180</text></g>
<g stroke="#000" stroke-width="5" stroke-linecap="round"><line x1="240.5" y1="3023" x2="240.5" y2="3045" /><line x1="397.3" y1="3023" x2="397.3" y2="3032.5" /><line x1="554.1" y1="3023" x2="554.1" y2="3045" /><line x1="710.9" y1="3023" x2="710.9" y2="3032.5" /><line x1="867.8" y1="3023" x2="867.8" y2="3045" /><line x1="1024.6" y1="3023" x2="1024.6" y2="3032.5" /><line x1="1181.4" y1="3023" x2="1181.4" y2="3045" /><line x1="1338.2" y1="3023" x2="1338.2" y2="3032.5" /><line x1="1495" y1="3023" x2="1495" y2="3045" /><line x1="1651.8" y1="3023" x2="1651.8" y2="3032.5" /><line x1="1808.6" y1="3023" x2="1808.6" y2="3045" /><line x1="1965.4" y1="3023" x2="1965.4" y2="3032.5" /><line x1="2122.2" y1="3023" x2="2122.2" y2="3045" /><line x1="240.5" y1="3023" x2="218" y2="3023" /><line x1="240.5" y1="2888" x2="229.5" y2="2888" /><line x1="240.5" y1="2753" x2="218" y2="2753" /><line x1="240.5" y1="2618" x2="229.5" y2="2618" /><line x1="240.5" y1="2483" x2="218" y2="2483" /><line x1="240.5" y1="2348" x2="229.5" y2="2348" /><line x1="240.5" y1="2213" x2="218" y2="2213" /><line x1="240.5" y1="2078" x2="229.5" y2="2078" /><line x1="240.5" y1="1943" x2="218" y2="1943" /><line x1="240.5" y1="1808" x2="229.5" y2="1808" /><line x1="240.5" y1="1673" x2="218" y2="1673" /></g>
<path d="M2122.2 1673 H240.5 V3023 H2122.2" fill="none" stroke="#000" stroke-width="5" stroke-linecap="square"/>
<g stroke="#f00" stroke-width="5" stroke-linecap="round"><line x1="2122.2" y1="3023" x2="2145" y2="3023" /><line x1="2122.2" y1="2948" x2="2133" y2="2948" /><line x1="2122.2" y1="2873" x2="2145" y2="2873" /><line x1="2122.2" y1="2798" x2="2133" y2="2798" /><line x1="2122.2" y1="2723" x2="2145" y2="2723" /><line x1="2122.2" y1="2648" x2="2133" y2="2648" /><line x1="2122.2" y1="2573" x2="2145" y2="2573" /><line x1="2122.2" y1="2498" x2="2133" y2="2498" /><line x1="2122.2" y1="2423" x2="2145" y2="2423" /><line x1="2122.2" y1="2348" x2="2133" y2="2348" /><line x1="2122.2" y1="2273" x2="2145" y2="2273" /><line x1="2122.2" y1="2198" x2="2133" y2="2198" /><line x1="2122.2" y1="2123" x2="2145" y2="2123" /><line x1="2122.2" y1="2048" x2="2133" y2="2048" /><line x1="2122.2" y1="1973" x2="2145" y2="1973" /><line x1="2122.2" y1="1898" x2="2133" y2="1898" /><line x1="2122.2" y1="1823" x2="2145" y2="1823" /><line x1="2122.2" y1="1748" x2="2133" y2="1748" /><line x1="2122.2" y1="1673" x2="2145" y2="1673" /></g>
<line x1="2122.2" y1="1670.5" x2="2122.2" y2="3025.5" stroke="#f00" stroke-width="5"/>
<g font-family="Liberation Serif, serif" font-size="50.13" fill="#000"><text x="201" y="3038.5" text-anchor="end">0</text><text x="201" y="2768.5" text-anchor="end">50</text><text x="201" y="2498.5" text-anchor="end">100</text><text x="201" y="2228.5" text-anchor="end">150</text><text x="201" y="1958.5" text-anchor="end">200</text><text x="201" y="1688.5" text-anchor="end">250</text><text x="240.5" y="3099" text-anchor="middle">0</text><text x="554.1" y="3099" text-anchor="middle">20</text><text x="867.8" y="3099" text-anchor="middle">40</text><text x="1181.4" y="3099" text-anchor="middle">60</text><text x="1495" y="3099" text-anchor="middle">80</text><text x="1808.6" y="3099" text-anchor="middle">100</text><text x="2122.2" y="3099" text-anchor="middle">120</text><text x="2163.5" y="3038.5">0</text><text x="2163.5" y="2888.5">20</text><text x="2163.5" y="2738.5">40</text><text x="2163.5" y="2588.5">60</text><text x="2163.5" y="2438.5">80</text><text x="2163.5" y="2288.5">100</text><text x="2163.5" y="2138.5">120</text><text x="2163.5" y="1988.5">140</text><text x="2163.5" y="1838.5">160</text><text x="2163.5" y="1688.5">180</text></g>
<g font-family="Liberation Serif, serif" font-size="62.00" fill="#000">
<text x="1182" y="1575" text-anchor="middle">Time(min)</text>
<text transform="translate(83.5,714.7) rotate(-90)" text-anchor="middle">Viscosity at 170 s<tspan dy="-30.0" font-size="37.0">-1</tspan><tspan dy="30.0">(mPa·s)</tspan></text>
<text transform="translate(2330,716.5) rotate(-90)" text-anchor="middle">Temperture(<tspan dy="-30.0" font-size="37.0">o</tspan><tspan dy="30.0">C)</tspan></text>
</g>
<g font-family="Liberation Serif, serif" font-size="60.95" fill="#000">
<text x="1181.6" y="3195.5" text-anchor="middle">Time(min)</text>
<text transform="translate(101,2348) rotate(-90)" text-anchor="middle">Viscosity at 170 s<tspan dy="-29.5" font-size="36.4">-1</tspan><tspan dy="29.5">(mPa·s)</tspan></text>
<text transform="translate(2311,2348.5) rotate(-90)" text-anchor="middle">Temperture(<tspan dy="-29.5" font-size="36.4">o</tspan><tspan dy="29.5">C)</tspan></text>
</g>
<line x1="1116" y1="303" x2="1257" y2="303" stroke="#000" stroke-width="2.5"/>
<rect x="1181.9" y="298.4" width="9.2" height="9.2" fill="#000"/>
<line x1="1116" y1="379" x2="1257" y2="379" stroke="#00f" stroke-width="2.5"/>
<path d="M1180.5 384 L1186.5 373.5 L1192.5 384 Z" fill="#00f"/>
<line x1="1116" y1="454.8" x2="1257" y2="454.8" stroke="#008000" stroke-width="2.5"/>
<rect x="1181.9" y="450.2" width="9.2" height="9.2" fill="#008000"/>
<line x1="1117.5" y1="530.9" x2="1257" y2="530.9" stroke="#f00" stroke-width="7.5" stroke-linecap="round" stroke-dasharray="24 33"/>
<g font-family="Liberation Serif, serif" font-size="62.00" fill="#000"><text x="1272.7" y="324">Deoxidizer free</text><text x="1272.7" y="400">Sodium erythorbate (500ppm)</text><text x="1272.7" y="475.5">Sodium erythorbate (1200ppm)</text><text x="1272.7" y="552">Temperature</text></g>
<line x1="1117" y1="1939.25" x2="1256.25" y2="1939.25" stroke="#000" stroke-width="2.5"/>
<rect x="1182.025" y="1934.65" width="9.2" height="9.2" fill="#000"/>
<line x1="1117" y1="2014.8" x2="1256.25" y2="2014.8" stroke="#00f" stroke-width="2.5"/>
<path d="M1180.625 2019.8 L1186.625 2009.3 L1192.625 2019.8 Z" fill="#00f"/>
<line x1="1117" y1="2089.4" x2="1256.25" y2="2089.4" stroke="#008000" stroke-width="2.5"/>
<rect x="1182.025" y="2084.8" width="9.2" height="9.2" fill="#008000"/>
<line x1="1118.5" y1="2164.5" x2="1256.25" y2="2164.5" stroke="#f00" stroke-width="7.5" stroke-linecap="round" stroke-dasharray="24 33"/>
<g font-family="Liberation Serif, serif" font-size="60.95" fill="#000"><text x="1269.7" y="1960">Deoxidizer free</text><text x="1269.7" y="2036">Acetone oxime (100ppm)</text><text x="1269.7" y="2112">Acetone oxime (1060ppm)</text><text x="1269.7" y="2188">Temperature</text></g>
<g font-family="Liberation Sans, sans-serif" font-size="62" fill="#000">
<text x="279.7" y="131.9">(a)</text>
<text x="291.7" y="1774.9" font-size="60.9">(b)</text>
</g></svg>
</body></html>
